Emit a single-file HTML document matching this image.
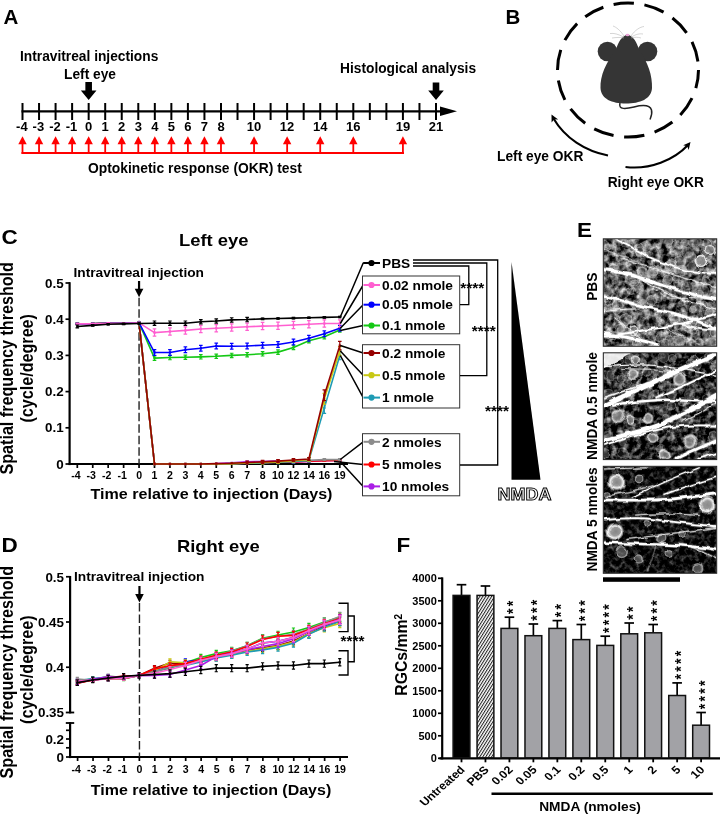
<!DOCTYPE html>
<html><head><meta charset="utf-8"><title>Figure</title>
<style>html,body{margin:0;padding:0;background:#fff}svg{display:block}text{font-family:"Liberation Sans",Arial,Helvetica,sans-serif;font-weight:bold}</style></head><body>
<svg width="720" height="816" viewBox="0 0 720 816">
<rect width="720" height="816" fill="#fff"/>
<defs>
<pattern id="hatch" width="2.5" height="2.5" patternUnits="userSpaceOnUse" patternTransform="rotate(-58)"><rect width="2.5" height="2.5" fill="#fff"/><rect width="2.5" height="1.05" fill="#222"/></pattern>
<filter id="noise" x="0" y="0" width="100%" height="100%"><feTurbulence type="fractalNoise" baseFrequency="0.11" numOctaves="3" seed="3" result="t"/><feColorMatrix type="matrix" values="0 0 0 0 0  0 0 0 0 0  0 0 0 0 0  2.6 2.6 0 0 -1.85" /><feComposite in2="SourceGraphic" operator="in"/></filter>
<filter id="noise2" x="0" y="0" width="100%" height="100%"><feTurbulence type="fractalNoise" baseFrequency="0.16" numOctaves="3" seed="11" result="t"/><feColorMatrix type="matrix" values="0 0 0 0 0  0 0 0 0 0  0 0 0 0 0  2.4 2.4 0 0 -2.0" /><feComposite in2="SourceGraphic" operator="in"/></filter>
<radialGradient id="cg"><stop offset="0" stop-color="#8c8c8c" stop-opacity="0.95"/><stop offset="0.45" stop-color="#a0a0a0" stop-opacity="0.95"/><stop offset="0.72" stop-color="#fff" stop-opacity="0.95"/><stop offset="1" stop-color="#fff" stop-opacity="0"/></radialGradient>
<filter id="b1"><feGaussianBlur stdDeviation="0.6"/></filter>
<filter id="b2"><feGaussianBlur stdDeviation="1.1"/></filter>
<clipPath id="c1"><rect x="603.5" y="239" width="113" height="107"/></clipPath>
<clipPath id="c2"><rect x="603.5" y="353" width="113" height="106.5"/></clipPath>
<clipPath id="c3"><rect x="603.5" y="466.5" width="113" height="106.5"/></clipPath>
</defs>
<text x="3.5" y="24" font-size="20.5" text-anchor="start" fill="#000" >A</text>
<text x="20" y="61" font-size="13.75" text-anchor="start" fill="#000" >Intravitreal injections</text>
<text x="64" y="79" font-size="13.75" text-anchor="start" fill="#000" >Left eye</text>
<text x="340" y="72.6" font-size="13.75" text-anchor="start" fill="#000" >Histological analysis</text>
<path d="M85.36,82 H91.96 V90.5 H96.46 L88.66,100 L80.86,90.5 H85.36 Z" fill="#000"/>
<path d="M432.7,82.5 H439.3 V90.5 H443.8 L436.0,100 L428.2,90.5 H432.7 Z" fill="#000"/>
<line x1="21.50" y1="111.30" x2="445.00" y2="111.30" stroke="#000" stroke-width="2.2" />
<path d="M440,106.5 L457,111.3 L440,116.1 Z" fill="#000"/>
<line x1="22.50" y1="103.00" x2="22.50" y2="120.00" stroke="#000" stroke-width="2" />
<line x1="39.04" y1="103.00" x2="39.04" y2="120.00" stroke="#000" stroke-width="2" />
<line x1="55.58" y1="103.00" x2="55.58" y2="120.00" stroke="#000" stroke-width="2" />
<line x1="72.12" y1="103.00" x2="72.12" y2="120.00" stroke="#000" stroke-width="2" />
<line x1="88.66" y1="103.00" x2="88.66" y2="120.00" stroke="#000" stroke-width="2" />
<line x1="105.20" y1="103.00" x2="105.20" y2="120.00" stroke="#000" stroke-width="2" />
<line x1="121.74" y1="103.00" x2="121.74" y2="120.00" stroke="#000" stroke-width="2" />
<line x1="138.28" y1="103.00" x2="138.28" y2="120.00" stroke="#000" stroke-width="2" />
<line x1="154.82" y1="103.00" x2="154.82" y2="120.00" stroke="#000" stroke-width="2" />
<line x1="171.36" y1="103.00" x2="171.36" y2="120.00" stroke="#000" stroke-width="2" />
<line x1="187.90" y1="103.00" x2="187.90" y2="120.00" stroke="#000" stroke-width="2" />
<line x1="204.44" y1="103.00" x2="204.44" y2="120.00" stroke="#000" stroke-width="2" />
<line x1="220.98" y1="103.00" x2="220.98" y2="120.00" stroke="#000" stroke-width="2" />
<line x1="237.52" y1="103.00" x2="237.52" y2="120.00" stroke="#000" stroke-width="2" />
<line x1="254.06" y1="103.00" x2="254.06" y2="120.00" stroke="#000" stroke-width="2" />
<line x1="270.60" y1="103.00" x2="270.60" y2="120.00" stroke="#000" stroke-width="2" />
<line x1="287.14" y1="103.00" x2="287.14" y2="120.00" stroke="#000" stroke-width="2" />
<line x1="303.68" y1="103.00" x2="303.68" y2="120.00" stroke="#000" stroke-width="2" />
<line x1="320.22" y1="103.00" x2="320.22" y2="120.00" stroke="#000" stroke-width="2" />
<line x1="336.76" y1="103.00" x2="336.76" y2="120.00" stroke="#000" stroke-width="2" />
<line x1="353.30" y1="103.00" x2="353.30" y2="120.00" stroke="#000" stroke-width="2" />
<line x1="369.84" y1="103.00" x2="369.84" y2="120.00" stroke="#000" stroke-width="2" />
<line x1="386.38" y1="103.00" x2="386.38" y2="120.00" stroke="#000" stroke-width="2" />
<line x1="402.92" y1="103.00" x2="402.92" y2="120.00" stroke="#000" stroke-width="2" />
<line x1="419.46" y1="103.00" x2="419.46" y2="120.00" stroke="#000" stroke-width="2" />
<line x1="436.00" y1="103.00" x2="436.00" y2="120.00" stroke="#000" stroke-width="2" />
<text x="21.9" y="131.3" font-size="13" text-anchor="middle" fill="#000" >-4</text>
<text x="38.4" y="131.3" font-size="13" text-anchor="middle" fill="#000" >-3</text>
<text x="55.0" y="131.3" font-size="13" text-anchor="middle" fill="#000" >-2</text>
<text x="71.5" y="131.3" font-size="13" text-anchor="middle" fill="#000" >-1</text>
<text x="88.7" y="131.3" font-size="13" text-anchor="middle" fill="#000" >0</text>
<text x="105.2" y="131.3" font-size="13" text-anchor="middle" fill="#000" >1</text>
<text x="121.7" y="131.3" font-size="13" text-anchor="middle" fill="#000" >2</text>
<text x="138.3" y="131.3" font-size="13" text-anchor="middle" fill="#000" >3</text>
<text x="154.8" y="131.3" font-size="13" text-anchor="middle" fill="#000" >4</text>
<text x="171.4" y="131.3" font-size="13" text-anchor="middle" fill="#000" >5</text>
<text x="187.9" y="131.3" font-size="13" text-anchor="middle" fill="#000" >6</text>
<text x="204.4" y="131.3" font-size="13" text-anchor="middle" fill="#000" >7</text>
<text x="221.0" y="131.3" font-size="13" text-anchor="middle" fill="#000" >8</text>
<text x="254.1" y="131.3" font-size="13" text-anchor="middle" fill="#000" >10</text>
<text x="287.1" y="131.3" font-size="13" text-anchor="middle" fill="#000" >12</text>
<text x="320.2" y="131.3" font-size="13" text-anchor="middle" fill="#000" >14</text>
<text x="353.3" y="131.3" font-size="13" text-anchor="middle" fill="#000" >16</text>
<text x="402.9" y="131.3" font-size="13" text-anchor="middle" fill="#000" >19</text>
<text x="436.0" y="131.3" font-size="13" text-anchor="middle" fill="#000" >21</text>
<line x1="21.50" y1="153.00" x2="404.00" y2="153.00" stroke="#f00" stroke-width="2" />
<line x1="22.50" y1="153.80" x2="22.50" y2="142.00" stroke="#f00" stroke-width="1.8" />
<path d="M18.30,144.3 L22.50,136.2 L26.70,144.3 Z" fill="#f00"/>
<line x1="39.04" y1="153.80" x2="39.04" y2="142.00" stroke="#f00" stroke-width="1.8" />
<path d="M34.84,144.3 L39.04,136.2 L43.24,144.3 Z" fill="#f00"/>
<line x1="55.58" y1="153.80" x2="55.58" y2="142.00" stroke="#f00" stroke-width="1.8" />
<path d="M51.38,144.3 L55.58,136.2 L59.78,144.3 Z" fill="#f00"/>
<line x1="72.12" y1="153.80" x2="72.12" y2="142.00" stroke="#f00" stroke-width="1.8" />
<path d="M67.92,144.3 L72.12,136.2 L76.32,144.3 Z" fill="#f00"/>
<line x1="88.66" y1="153.80" x2="88.66" y2="142.00" stroke="#f00" stroke-width="1.8" />
<path d="M84.46,144.3 L88.66,136.2 L92.86,144.3 Z" fill="#f00"/>
<line x1="105.20" y1="153.80" x2="105.20" y2="142.00" stroke="#f00" stroke-width="1.8" />
<path d="M101.00,144.3 L105.20,136.2 L109.40,144.3 Z" fill="#f00"/>
<line x1="121.74" y1="153.80" x2="121.74" y2="142.00" stroke="#f00" stroke-width="1.8" />
<path d="M117.54,144.3 L121.74,136.2 L125.94,144.3 Z" fill="#f00"/>
<line x1="138.28" y1="153.80" x2="138.28" y2="142.00" stroke="#f00" stroke-width="1.8" />
<path d="M134.08,144.3 L138.28,136.2 L142.48,144.3 Z" fill="#f00"/>
<line x1="154.82" y1="153.80" x2="154.82" y2="142.00" stroke="#f00" stroke-width="1.8" />
<path d="M150.62,144.3 L154.82,136.2 L159.02,144.3 Z" fill="#f00"/>
<line x1="171.36" y1="153.80" x2="171.36" y2="142.00" stroke="#f00" stroke-width="1.8" />
<path d="M167.16,144.3 L171.36,136.2 L175.56,144.3 Z" fill="#f00"/>
<line x1="187.90" y1="153.80" x2="187.90" y2="142.00" stroke="#f00" stroke-width="1.8" />
<path d="M183.70,144.3 L187.90,136.2 L192.10,144.3 Z" fill="#f00"/>
<line x1="204.44" y1="153.80" x2="204.44" y2="142.00" stroke="#f00" stroke-width="1.8" />
<path d="M200.24,144.3 L204.44,136.2 L208.64,144.3 Z" fill="#f00"/>
<line x1="220.98" y1="153.80" x2="220.98" y2="142.00" stroke="#f00" stroke-width="1.8" />
<path d="M216.78,144.3 L220.98,136.2 L225.18,144.3 Z" fill="#f00"/>
<line x1="254.06" y1="153.80" x2="254.06" y2="142.00" stroke="#f00" stroke-width="1.8" />
<path d="M249.86,144.3 L254.06,136.2 L258.26,144.3 Z" fill="#f00"/>
<line x1="287.14" y1="153.80" x2="287.14" y2="142.00" stroke="#f00" stroke-width="1.8" />
<path d="M282.94,144.3 L287.14,136.2 L291.34,144.3 Z" fill="#f00"/>
<line x1="320.22" y1="153.80" x2="320.22" y2="142.00" stroke="#f00" stroke-width="1.8" />
<path d="M316.02,144.3 L320.22,136.2 L324.42,144.3 Z" fill="#f00"/>
<line x1="353.30" y1="153.80" x2="353.30" y2="142.00" stroke="#f00" stroke-width="1.8" />
<path d="M349.10,144.3 L353.30,136.2 L357.50,144.3 Z" fill="#f00"/>
<line x1="402.92" y1="153.80" x2="402.92" y2="142.00" stroke="#f00" stroke-width="1.8" />
<path d="M398.72,144.3 L402.92,136.2 L407.12,144.3 Z" fill="#f00"/>
<text x="88" y="173" font-size="13.85" text-anchor="start" fill="#000" >Optokinetic response (OKR) test</text>
<text x="505.5" y="23.5" font-size="20.5" text-anchor="start" fill="#000" >B</text>
<ellipse cx="628" cy="70" rx="70.5" ry="67" fill="none" stroke="#000" stroke-width="3" stroke-dasharray="20.5 10.6" stroke-dashoffset="2"/>
<g fill="#353535">
<circle cx="607.5" cy="51.5" r="9.8"/><circle cx="647.5" cy="51.5" r="9.8"/>
<path d="M627.5,34.5 C622,36 618,42 616,50 C606,62 600,76 600.5,88 C601,99 612,103.5 626,103.5 C640,103.5 651.5,99 652,88 C652.5,76 648,62 639,50 C637,42 633,36 627.5,34.5 Z"/>
</g>
<ellipse cx="627.5" cy="35" rx="2" ry="1.2" fill="#e9a3d6"/>
<path d="M620,103 C618,110 626,109 634,107 C642,105 650,105 651.5,110 C652.5,114 651,117 650,119.5" fill="none" stroke="#222" stroke-width="1.5"/>
<g fill="none" stroke="#aaa" stroke-width="0.5"><path d="M624,36 C620,30 616,27 613,26"/><path d="M623.5,37 C618,34 614,33 610,33.5"/><path d="M631,36 C635,30 640,27 644,26.5"/><path d="M631.5,37 C636,34 640,33.5 643,34"/><path d="M624,38 C620,37 616,37.5 612,38"/><path d="M631,38 C635,37 638,37 641,38"/></g>
<path d="M608,155.5 C585,151 565,138 553.5,118.5" fill="none" stroke="#000" stroke-width="2.1"/>
<path d="M551.5,114.5 L558.2,119.5 L554.2,119.2 L551.6,122.6 Z" fill="#000"/>
<path d="M625.5,167 C650,170 674,160 688,145" fill="none" stroke="#000" stroke-width="2.1"/>
<path d="M690.5,142 L688.7,150 L687.2,146.2 L683.2,145.3 Z" fill="#000"/>
<text x="497" y="160.8" font-size="13.75" text-anchor="start" fill="#000" >Left eye OKR</text>
<text x="607.7" y="187" font-size="13.75" text-anchor="start" fill="#000" >Right eye OKR</text>
<text transform="translate(1.5,243.5) scale(1.13,1)" font-size="19.91" text-anchor="start" fill="#000" >C</text>
<text transform="translate(213.7,246) scale(1.13,1)" font-size="16.28" text-anchor="middle" fill="#000" >Left eye</text>
<text transform="translate(73.5,277) scale(1.13,1)" font-size="12.17" text-anchor="start" fill="#000" >Intravitreal injection</text>
<text transform="translate(12.9,368.3) scale(1.08,1) rotate(-90)" font-size="16.15" text-anchor="middle">Spatial frequency threshold</text>
<text transform="translate(33.1,368.3) scale(1.08,1) rotate(-90)" font-size="16.15" text-anchor="middle">(cycle/degree)</text>
<line x1="69.60" y1="282.20" x2="69.60" y2="465.10" stroke="#000" stroke-width="2.2" />
<line x1="68.50" y1="464.00" x2="348.00" y2="464.00" stroke="#000" stroke-width="2.2" />
<line x1="65.50" y1="283.00" x2="70.00" y2="283.00" stroke="#000" stroke-width="1.7" />
<text transform="translate(63.7,287.5) scale(1.13,1)" font-size="11.86" text-anchor="end" fill="#000" >0.5</text>
<line x1="65.50" y1="319.20" x2="70.00" y2="319.20" stroke="#000" stroke-width="1.7" />
<text transform="translate(63.7,323.7) scale(1.13,1)" font-size="11.86" text-anchor="end" fill="#000" >0.4</text>
<line x1="65.50" y1="355.40" x2="70.00" y2="355.40" stroke="#000" stroke-width="1.7" />
<text transform="translate(63.7,359.9) scale(1.13,1)" font-size="11.86" text-anchor="end" fill="#000" >0.3</text>
<line x1="65.50" y1="391.60" x2="70.00" y2="391.60" stroke="#000" stroke-width="1.7" />
<text transform="translate(63.7,396.1) scale(1.13,1)" font-size="11.86" text-anchor="end" fill="#000" >0.2</text>
<line x1="65.50" y1="427.80" x2="70.00" y2="427.80" stroke="#000" stroke-width="1.7" />
<text transform="translate(63.7,432.3) scale(1.13,1)" font-size="11.86" text-anchor="end" fill="#000" >0.1</text>
<line x1="65.50" y1="464.00" x2="70.00" y2="464.00" stroke="#000" stroke-width="1.7" />
<text transform="translate(63.7,468.5) scale(1.13,1)" font-size="11.86" text-anchor="end" fill="#000" >0</text>
<line x1="77.30" y1="464.00" x2="77.30" y2="468.00" stroke="#000" stroke-width="1.7" />
<text transform="translate(75.9,479.4) scale(1.06,1)" font-size="10.00" text-anchor="middle" fill="#000" >-4</text>
<line x1="92.74" y1="464.00" x2="92.74" y2="468.00" stroke="#000" stroke-width="1.7" />
<text transform="translate(91.3,479.4) scale(1.06,1)" font-size="10.00" text-anchor="middle" fill="#000" >-3</text>
<line x1="108.18" y1="464.00" x2="108.18" y2="468.00" stroke="#000" stroke-width="1.7" />
<text transform="translate(106.8,479.4) scale(1.06,1)" font-size="10.00" text-anchor="middle" fill="#000" >-2</text>
<line x1="123.62" y1="464.00" x2="123.62" y2="468.00" stroke="#000" stroke-width="1.7" />
<text transform="translate(122.2,479.4) scale(1.06,1)" font-size="10.00" text-anchor="middle" fill="#000" >-1</text>
<line x1="139.06" y1="464.00" x2="139.06" y2="468.00" stroke="#000" stroke-width="1.7" />
<text transform="translate(139.1,479.4) scale(1.06,1)" font-size="10.00" text-anchor="middle" fill="#000" >0</text>
<line x1="154.50" y1="464.00" x2="154.50" y2="468.00" stroke="#000" stroke-width="1.7" />
<text transform="translate(154.5,479.4) scale(1.06,1)" font-size="10.00" text-anchor="middle" fill="#000" >1</text>
<line x1="169.94" y1="464.00" x2="169.94" y2="468.00" stroke="#000" stroke-width="1.7" />
<text transform="translate(169.9,479.4) scale(1.06,1)" font-size="10.00" text-anchor="middle" fill="#000" >2</text>
<line x1="185.38" y1="464.00" x2="185.38" y2="468.00" stroke="#000" stroke-width="1.7" />
<text transform="translate(185.4,479.4) scale(1.06,1)" font-size="10.00" text-anchor="middle" fill="#000" >3</text>
<line x1="200.82" y1="464.00" x2="200.82" y2="468.00" stroke="#000" stroke-width="1.7" />
<text transform="translate(200.8,479.4) scale(1.06,1)" font-size="10.00" text-anchor="middle" fill="#000" >4</text>
<line x1="216.26" y1="464.00" x2="216.26" y2="468.00" stroke="#000" stroke-width="1.7" />
<text transform="translate(216.3,479.4) scale(1.06,1)" font-size="10.00" text-anchor="middle" fill="#000" >5</text>
<line x1="231.70" y1="464.00" x2="231.70" y2="468.00" stroke="#000" stroke-width="1.7" />
<text transform="translate(231.7,479.4) scale(1.06,1)" font-size="10.00" text-anchor="middle" fill="#000" >6</text>
<line x1="247.14" y1="464.00" x2="247.14" y2="468.00" stroke="#000" stroke-width="1.7" />
<text transform="translate(247.1,479.4) scale(1.06,1)" font-size="10.00" text-anchor="middle" fill="#000" >7</text>
<line x1="262.58" y1="464.00" x2="262.58" y2="468.00" stroke="#000" stroke-width="1.7" />
<text transform="translate(262.6,479.4) scale(1.06,1)" font-size="10.00" text-anchor="middle" fill="#000" >8</text>
<line x1="278.02" y1="464.00" x2="278.02" y2="468.00" stroke="#000" stroke-width="1.7" />
<text transform="translate(278.0,479.4) scale(1.06,1)" font-size="10.00" text-anchor="middle" fill="#000" >10</text>
<line x1="293.46" y1="464.00" x2="293.46" y2="468.00" stroke="#000" stroke-width="1.7" />
<text transform="translate(293.5,479.4) scale(1.06,1)" font-size="10.00" text-anchor="middle" fill="#000" >12</text>
<line x1="308.90" y1="464.00" x2="308.90" y2="468.00" stroke="#000" stroke-width="1.7" />
<text transform="translate(308.9,479.4) scale(1.06,1)" font-size="10.00" text-anchor="middle" fill="#000" >14</text>
<line x1="324.34" y1="464.00" x2="324.34" y2="468.00" stroke="#000" stroke-width="1.7" />
<text transform="translate(324.3,479.4) scale(1.06,1)" font-size="10.00" text-anchor="middle" fill="#000" >16</text>
<line x1="339.78" y1="464.00" x2="339.78" y2="468.00" stroke="#000" stroke-width="1.7" />
<text transform="translate(339.8,479.4) scale(1.06,1)" font-size="10.00" text-anchor="middle" fill="#000" >19</text>
<text transform="translate(211.5,498.5) scale(1.13,1)" font-size="14.25" text-anchor="middle" fill="#000" >Time relative to injection (Days)</text>
<line x1="139.06" y1="281.00" x2="139.06" y2="292.30" stroke="#000" stroke-width="2.2" />
<path d="M134.76,288.7 L143.36,288.7 L139.06,297.3 Z" fill="#000"/>
<line x1="139.06" y1="297.80" x2="139.06" y2="464.00" stroke="#222" stroke-width="1.4" stroke-dasharray="8.5 3"/>
<path d="M77.30,323.91 L92.74,323.91 L108.18,323.18 L123.62,323.18 L139.06,322.82 L154.50,464.00 L169.94,464.00 L185.38,464.00 L200.82,464.00 L216.26,463.64 L231.70,462.91 L247.14,461.83 L262.58,461.47 L278.02,460.74 L293.46,462.19 L308.90,461.47 L324.34,460.74 L339.78,460.38" fill="none" stroke="#aa1ee6" stroke-width="1.6" stroke-linejoin="round"/>
<path d="M77.30,323.36 V324.45 M75.50,323.36 h3.6 M75.50,324.45 h3.6" stroke="#aa1ee6" stroke-width="1.2" fill="none"/>
<path d="M92.74,323.36 V324.45 M90.94,323.36 h3.6 M90.94,324.45 h3.6" stroke="#aa1ee6" stroke-width="1.2" fill="none"/>
<path d="M108.18,322.64 V323.73 M106.38,322.64 h3.6 M106.38,323.73 h3.6" stroke="#aa1ee6" stroke-width="1.2" fill="none"/>
<path d="M123.62,322.64 V323.73 M121.82,322.64 h3.6 M121.82,323.73 h3.6" stroke="#aa1ee6" stroke-width="1.2" fill="none"/>
<path d="M139.06,322.28 V323.36 M137.26,322.28 h3.6 M137.26,323.36 h3.6" stroke="#aa1ee6" stroke-width="1.2" fill="none"/>
<path d="M247.14,461.10 V462.55 M245.34,461.10 h3.6 M245.34,462.55 h3.6" stroke="#aa1ee6" stroke-width="1.2" fill="none"/>
<path d="M262.58,460.74 V462.19 M260.78,460.74 h3.6 M260.78,462.19 h3.6" stroke="#aa1ee6" stroke-width="1.2" fill="none"/>
<path d="M278.02,460.02 V461.47 M276.22,460.02 h3.6 M276.22,461.47 h3.6" stroke="#aa1ee6" stroke-width="1.2" fill="none"/>
<path d="M293.46,461.47 V462.91 M291.66,461.47 h3.6 M291.66,462.91 h3.6" stroke="#aa1ee6" stroke-width="1.2" fill="none"/>
<path d="M308.90,460.74 V462.19 M307.10,460.74 h3.6 M307.10,462.19 h3.6" stroke="#aa1ee6" stroke-width="1.2" fill="none"/>
<path d="M324.34,460.02 V461.47 M322.54,460.02 h3.6 M322.54,461.47 h3.6" stroke="#aa1ee6" stroke-width="1.2" fill="none"/>
<path d="M339.78,459.66 V461.10 M337.98,459.66 h3.6 M337.98,461.10 h3.6" stroke="#aa1ee6" stroke-width="1.2" fill="none"/>
<rect x="76.15" y="322.76" width="2.3" height="2.3" fill="#aa1ee6"/>
<rect x="91.59" y="322.76" width="2.3" height="2.3" fill="#aa1ee6"/>
<rect x="107.03" y="322.03" width="2.3" height="2.3" fill="#aa1ee6"/>
<rect x="122.47" y="322.03" width="2.3" height="2.3" fill="#aa1ee6"/>
<rect x="137.91" y="321.67" width="2.3" height="2.3" fill="#aa1ee6"/>
<rect x="153.35" y="462.85" width="2.3" height="2.3" fill="#aa1ee6"/>
<rect x="168.79" y="462.85" width="2.3" height="2.3" fill="#aa1ee6"/>
<rect x="184.23" y="462.85" width="2.3" height="2.3" fill="#aa1ee6"/>
<rect x="199.67" y="462.85" width="2.3" height="2.3" fill="#aa1ee6"/>
<rect x="215.11" y="462.49" width="2.3" height="2.3" fill="#aa1ee6"/>
<rect x="230.55" y="461.76" width="2.3" height="2.3" fill="#aa1ee6"/>
<rect x="245.99" y="460.68" width="2.3" height="2.3" fill="#aa1ee6"/>
<rect x="261.43" y="460.32" width="2.3" height="2.3" fill="#aa1ee6"/>
<rect x="276.87" y="459.59" width="2.3" height="2.3" fill="#aa1ee6"/>
<rect x="292.31" y="461.04" width="2.3" height="2.3" fill="#aa1ee6"/>
<rect x="307.75" y="460.32" width="2.3" height="2.3" fill="#aa1ee6"/>
<rect x="323.19" y="459.59" width="2.3" height="2.3" fill="#aa1ee6"/>
<rect x="338.63" y="459.23" width="2.3" height="2.3" fill="#aa1ee6"/>
<path d="M77.30,323.91 L92.74,323.91 L108.18,323.18 L123.62,323.18 L139.06,322.82 L154.50,464.00 L169.94,464.00 L185.38,464.00 L200.82,464.00 L216.26,464.00 L231.70,463.64 L247.14,463.28 L262.58,462.91 L278.02,462.19 L293.46,461.83 L308.90,461.10 L324.34,460.74 L339.78,460.38" fill="none" stroke="#ff0000" stroke-width="1.6" stroke-linejoin="round"/>
<path d="M77.30,323.36 V324.45 M75.50,323.36 h3.6 M75.50,324.45 h3.6" stroke="#ff0000" stroke-width="1.2" fill="none"/>
<path d="M92.74,323.36 V324.45 M90.94,323.36 h3.6 M90.94,324.45 h3.6" stroke="#ff0000" stroke-width="1.2" fill="none"/>
<path d="M108.18,322.64 V323.73 M106.38,322.64 h3.6 M106.38,323.73 h3.6" stroke="#ff0000" stroke-width="1.2" fill="none"/>
<path d="M123.62,322.64 V323.73 M121.82,322.64 h3.6 M121.82,323.73 h3.6" stroke="#ff0000" stroke-width="1.2" fill="none"/>
<path d="M139.06,322.28 V323.36 M137.26,322.28 h3.6 M137.26,323.36 h3.6" stroke="#ff0000" stroke-width="1.2" fill="none"/>
<path d="M278.02,461.65 V462.73 M276.22,461.65 h3.6 M276.22,462.73 h3.6" stroke="#ff0000" stroke-width="1.2" fill="none"/>
<path d="M293.46,461.29 V462.37 M291.66,461.29 h3.6 M291.66,462.37 h3.6" stroke="#ff0000" stroke-width="1.2" fill="none"/>
<path d="M308.90,460.56 V461.65 M307.10,460.56 h3.6 M307.10,461.65 h3.6" stroke="#ff0000" stroke-width="1.2" fill="none"/>
<path d="M324.34,460.20 V461.29 M322.54,460.20 h3.6 M322.54,461.29 h3.6" stroke="#ff0000" stroke-width="1.2" fill="none"/>
<path d="M339.78,459.84 V460.92 M337.98,459.84 h3.6 M337.98,460.92 h3.6" stroke="#ff0000" stroke-width="1.2" fill="none"/>
<rect x="76.15" y="322.76" width="2.3" height="2.3" fill="#ff0000"/>
<rect x="91.59" y="322.76" width="2.3" height="2.3" fill="#ff0000"/>
<rect x="107.03" y="322.03" width="2.3" height="2.3" fill="#ff0000"/>
<rect x="122.47" y="322.03" width="2.3" height="2.3" fill="#ff0000"/>
<rect x="137.91" y="321.67" width="2.3" height="2.3" fill="#ff0000"/>
<rect x="153.35" y="462.85" width="2.3" height="2.3" fill="#ff0000"/>
<rect x="168.79" y="462.85" width="2.3" height="2.3" fill="#ff0000"/>
<rect x="184.23" y="462.85" width="2.3" height="2.3" fill="#ff0000"/>
<rect x="199.67" y="462.85" width="2.3" height="2.3" fill="#ff0000"/>
<rect x="215.11" y="462.85" width="2.3" height="2.3" fill="#ff0000"/>
<rect x="230.55" y="462.49" width="2.3" height="2.3" fill="#ff0000"/>
<rect x="245.99" y="462.13" width="2.3" height="2.3" fill="#ff0000"/>
<rect x="261.43" y="461.76" width="2.3" height="2.3" fill="#ff0000"/>
<rect x="276.87" y="461.04" width="2.3" height="2.3" fill="#ff0000"/>
<rect x="292.31" y="460.68" width="2.3" height="2.3" fill="#ff0000"/>
<rect x="307.75" y="459.95" width="2.3" height="2.3" fill="#ff0000"/>
<rect x="323.19" y="459.59" width="2.3" height="2.3" fill="#ff0000"/>
<rect x="338.63" y="459.23" width="2.3" height="2.3" fill="#ff0000"/>
<path d="M77.30,323.91 L92.74,323.91 L108.18,323.18 L123.62,323.18 L139.06,322.82 L154.50,464.00 L169.94,464.00 L185.38,464.00 L200.82,464.00 L216.26,464.00 L231.70,463.64 L247.14,463.28 L262.58,462.55 L278.02,461.83 L293.46,461.10 L308.90,460.38 L324.34,459.66 L339.78,459.66" fill="none" stroke="#8c8c8c" stroke-width="1.6" stroke-linejoin="round"/>
<path d="M77.30,323.36 V324.45 M75.50,323.36 h3.6 M75.50,324.45 h3.6" stroke="#8c8c8c" stroke-width="1.2" fill="none"/>
<path d="M92.74,323.36 V324.45 M90.94,323.36 h3.6 M90.94,324.45 h3.6" stroke="#8c8c8c" stroke-width="1.2" fill="none"/>
<path d="M108.18,322.64 V323.73 M106.38,322.64 h3.6 M106.38,323.73 h3.6" stroke="#8c8c8c" stroke-width="1.2" fill="none"/>
<path d="M123.62,322.64 V323.73 M121.82,322.64 h3.6 M121.82,323.73 h3.6" stroke="#8c8c8c" stroke-width="1.2" fill="none"/>
<path d="M139.06,322.28 V323.36 M137.26,322.28 h3.6 M137.26,323.36 h3.6" stroke="#8c8c8c" stroke-width="1.2" fill="none"/>
<path d="M262.58,461.47 V463.64 M260.78,461.47 h3.6 M260.78,463.64 h3.6" stroke="#8c8c8c" stroke-width="1.2" fill="none"/>
<path d="M278.02,460.74 V462.91 M276.22,460.74 h3.6 M276.22,462.91 h3.6" stroke="#8c8c8c" stroke-width="1.2" fill="none"/>
<path d="M293.46,460.02 V462.19 M291.66,460.02 h3.6 M291.66,462.19 h3.6" stroke="#8c8c8c" stroke-width="1.2" fill="none"/>
<path d="M308.90,459.29 V461.47 M307.10,459.29 h3.6 M307.10,461.47 h3.6" stroke="#8c8c8c" stroke-width="1.2" fill="none"/>
<path d="M324.34,458.57 V460.74 M322.54,458.57 h3.6 M322.54,460.74 h3.6" stroke="#8c8c8c" stroke-width="1.2" fill="none"/>
<path d="M339.78,458.57 V460.74 M337.98,458.57 h3.6 M337.98,460.74 h3.6" stroke="#8c8c8c" stroke-width="1.2" fill="none"/>
<rect x="76.15" y="322.76" width="2.3" height="2.3" fill="#8c8c8c"/>
<rect x="91.59" y="322.76" width="2.3" height="2.3" fill="#8c8c8c"/>
<rect x="107.03" y="322.03" width="2.3" height="2.3" fill="#8c8c8c"/>
<rect x="122.47" y="322.03" width="2.3" height="2.3" fill="#8c8c8c"/>
<rect x="137.91" y="321.67" width="2.3" height="2.3" fill="#8c8c8c"/>
<rect x="153.35" y="462.85" width="2.3" height="2.3" fill="#8c8c8c"/>
<rect x="168.79" y="462.85" width="2.3" height="2.3" fill="#8c8c8c"/>
<rect x="184.23" y="462.85" width="2.3" height="2.3" fill="#8c8c8c"/>
<rect x="199.67" y="462.85" width="2.3" height="2.3" fill="#8c8c8c"/>
<rect x="215.11" y="462.85" width="2.3" height="2.3" fill="#8c8c8c"/>
<rect x="230.55" y="462.49" width="2.3" height="2.3" fill="#8c8c8c"/>
<rect x="245.99" y="462.13" width="2.3" height="2.3" fill="#8c8c8c"/>
<rect x="261.43" y="461.40" width="2.3" height="2.3" fill="#8c8c8c"/>
<rect x="276.87" y="460.68" width="2.3" height="2.3" fill="#8c8c8c"/>
<rect x="292.31" y="459.95" width="2.3" height="2.3" fill="#8c8c8c"/>
<rect x="307.75" y="459.23" width="2.3" height="2.3" fill="#8c8c8c"/>
<rect x="323.19" y="458.51" width="2.3" height="2.3" fill="#8c8c8c"/>
<rect x="338.63" y="458.51" width="2.3" height="2.3" fill="#8c8c8c"/>
<path d="M77.30,323.91 L92.74,323.91 L108.18,323.18 L123.62,323.18 L139.06,322.82 L154.50,464.00 L169.94,464.00 L185.38,464.00 L200.82,464.00 L216.26,464.00 L231.70,463.64 L247.14,463.28 L262.58,462.91 L278.02,462.19 L293.46,461.47 L308.90,460.38 L324.34,407.89 L339.78,355.40" fill="none" stroke="#1e9bb4" stroke-width="1.6" stroke-linejoin="round"/>
<path d="M77.30,323.36 V324.45 M75.50,323.36 h3.6 M75.50,324.45 h3.6" stroke="#1e9bb4" stroke-width="1.2" fill="none"/>
<path d="M92.74,323.36 V324.45 M90.94,323.36 h3.6 M90.94,324.45 h3.6" stroke="#1e9bb4" stroke-width="1.2" fill="none"/>
<path d="M108.18,322.64 V323.73 M106.38,322.64 h3.6 M106.38,323.73 h3.6" stroke="#1e9bb4" stroke-width="1.2" fill="none"/>
<path d="M123.62,322.64 V323.73 M121.82,322.64 h3.6 M121.82,323.73 h3.6" stroke="#1e9bb4" stroke-width="1.2" fill="none"/>
<path d="M139.06,322.28 V323.36 M137.26,322.28 h3.6 M137.26,323.36 h3.6" stroke="#1e9bb4" stroke-width="1.2" fill="none"/>
<path d="M278.02,460.74 V463.64 M276.22,460.74 h3.6 M276.22,463.64 h3.6" stroke="#1e9bb4" stroke-width="1.2" fill="none"/>
<path d="M293.46,460.02 V462.91 M291.66,460.02 h3.6 M291.66,462.91 h3.6" stroke="#1e9bb4" stroke-width="1.2" fill="none"/>
<path d="M308.90,458.93 V461.83 M307.10,458.93 h3.6 M307.10,461.83 h3.6" stroke="#1e9bb4" stroke-width="1.2" fill="none"/>
<path d="M324.34,402.46 V413.32 M322.54,402.46 h3.6 M322.54,413.32 h3.6" stroke="#1e9bb4" stroke-width="1.2" fill="none"/>
<path d="M339.78,351.06 V359.74 M337.98,351.06 h3.6 M337.98,359.74 h3.6" stroke="#1e9bb4" stroke-width="1.2" fill="none"/>
<rect x="76.15" y="322.76" width="2.3" height="2.3" fill="#1e9bb4"/>
<rect x="91.59" y="322.76" width="2.3" height="2.3" fill="#1e9bb4"/>
<rect x="107.03" y="322.03" width="2.3" height="2.3" fill="#1e9bb4"/>
<rect x="122.47" y="322.03" width="2.3" height="2.3" fill="#1e9bb4"/>
<rect x="137.91" y="321.67" width="2.3" height="2.3" fill="#1e9bb4"/>
<rect x="153.35" y="462.85" width="2.3" height="2.3" fill="#1e9bb4"/>
<rect x="168.79" y="462.85" width="2.3" height="2.3" fill="#1e9bb4"/>
<rect x="184.23" y="462.85" width="2.3" height="2.3" fill="#1e9bb4"/>
<rect x="199.67" y="462.85" width="2.3" height="2.3" fill="#1e9bb4"/>
<rect x="215.11" y="462.85" width="2.3" height="2.3" fill="#1e9bb4"/>
<rect x="230.55" y="462.49" width="2.3" height="2.3" fill="#1e9bb4"/>
<rect x="245.99" y="462.13" width="2.3" height="2.3" fill="#1e9bb4"/>
<rect x="261.43" y="461.76" width="2.3" height="2.3" fill="#1e9bb4"/>
<rect x="276.87" y="461.04" width="2.3" height="2.3" fill="#1e9bb4"/>
<rect x="292.31" y="460.32" width="2.3" height="2.3" fill="#1e9bb4"/>
<rect x="307.75" y="459.23" width="2.3" height="2.3" fill="#1e9bb4"/>
<rect x="323.19" y="406.74" width="2.3" height="2.3" fill="#1e9bb4"/>
<rect x="338.63" y="354.25" width="2.3" height="2.3" fill="#1e9bb4"/>
<path d="M77.30,323.91 L92.74,323.91 L108.18,323.18 L123.62,323.18 L139.06,322.82 L154.50,464.00 L169.94,464.00 L185.38,464.00 L200.82,464.00 L216.26,464.00 L231.70,463.64 L247.14,462.91 L262.58,462.55 L278.02,461.83 L293.46,460.74 L308.90,459.66 L324.34,398.84 L339.78,351.06" fill="none" stroke="#c8c814" stroke-width="1.6" stroke-linejoin="round"/>
<path d="M77.30,323.36 V324.45 M75.50,323.36 h3.6 M75.50,324.45 h3.6" stroke="#c8c814" stroke-width="1.2" fill="none"/>
<path d="M92.74,323.36 V324.45 M90.94,323.36 h3.6 M90.94,324.45 h3.6" stroke="#c8c814" stroke-width="1.2" fill="none"/>
<path d="M108.18,322.64 V323.73 M106.38,322.64 h3.6 M106.38,323.73 h3.6" stroke="#c8c814" stroke-width="1.2" fill="none"/>
<path d="M123.62,322.64 V323.73 M121.82,322.64 h3.6 M121.82,323.73 h3.6" stroke="#c8c814" stroke-width="1.2" fill="none"/>
<path d="M139.06,322.28 V323.36 M137.26,322.28 h3.6 M137.26,323.36 h3.6" stroke="#c8c814" stroke-width="1.2" fill="none"/>
<path d="M262.58,461.10 V464.00 M260.78,461.10 h3.6 M260.78,464.00 h3.6" stroke="#c8c814" stroke-width="1.2" fill="none"/>
<path d="M278.02,460.38 V463.28 M276.22,460.38 h3.6 M276.22,463.28 h3.6" stroke="#c8c814" stroke-width="1.2" fill="none"/>
<path d="M293.46,459.29 V462.19 M291.66,459.29 h3.6 M291.66,462.19 h3.6" stroke="#c8c814" stroke-width="1.2" fill="none"/>
<path d="M308.90,458.21 V461.10 M307.10,458.21 h3.6 M307.10,461.10 h3.6" stroke="#c8c814" stroke-width="1.2" fill="none"/>
<path d="M324.34,393.41 V404.27 M322.54,393.41 h3.6 M322.54,404.27 h3.6" stroke="#c8c814" stroke-width="1.2" fill="none"/>
<path d="M339.78,346.71 V355.40 M337.98,346.71 h3.6 M337.98,355.40 h3.6" stroke="#c8c814" stroke-width="1.2" fill="none"/>
<rect x="76.15" y="322.76" width="2.3" height="2.3" fill="#c8c814"/>
<rect x="91.59" y="322.76" width="2.3" height="2.3" fill="#c8c814"/>
<rect x="107.03" y="322.03" width="2.3" height="2.3" fill="#c8c814"/>
<rect x="122.47" y="322.03" width="2.3" height="2.3" fill="#c8c814"/>
<rect x="137.91" y="321.67" width="2.3" height="2.3" fill="#c8c814"/>
<rect x="153.35" y="462.85" width="2.3" height="2.3" fill="#c8c814"/>
<rect x="168.79" y="462.85" width="2.3" height="2.3" fill="#c8c814"/>
<rect x="184.23" y="462.85" width="2.3" height="2.3" fill="#c8c814"/>
<rect x="199.67" y="462.85" width="2.3" height="2.3" fill="#c8c814"/>
<rect x="215.11" y="462.85" width="2.3" height="2.3" fill="#c8c814"/>
<rect x="230.55" y="462.49" width="2.3" height="2.3" fill="#c8c814"/>
<rect x="245.99" y="461.76" width="2.3" height="2.3" fill="#c8c814"/>
<rect x="261.43" y="461.40" width="2.3" height="2.3" fill="#c8c814"/>
<rect x="276.87" y="460.68" width="2.3" height="2.3" fill="#c8c814"/>
<rect x="292.31" y="459.59" width="2.3" height="2.3" fill="#c8c814"/>
<rect x="307.75" y="458.51" width="2.3" height="2.3" fill="#c8c814"/>
<rect x="323.19" y="397.69" width="2.3" height="2.3" fill="#c8c814"/>
<rect x="338.63" y="349.91" width="2.3" height="2.3" fill="#c8c814"/>
<path d="M77.30,323.91 L92.74,323.91 L108.18,323.18 L123.62,323.18 L139.06,322.82 L154.50,464.00 L169.94,464.00 L185.38,464.00 L200.82,464.00 L216.26,463.64 L231.70,463.28 L247.14,462.55 L262.58,461.83 L278.02,461.10 L293.46,460.02 L308.90,458.93 L324.34,395.22 L339.78,345.63" fill="none" stroke="#960000" stroke-width="1.6" stroke-linejoin="round"/>
<path d="M77.30,323.36 V324.45 M75.50,323.36 h3.6 M75.50,324.45 h3.6" stroke="#960000" stroke-width="1.2" fill="none"/>
<path d="M92.74,323.36 V324.45 M90.94,323.36 h3.6 M90.94,324.45 h3.6" stroke="#960000" stroke-width="1.2" fill="none"/>
<path d="M108.18,322.64 V323.73 M106.38,322.64 h3.6 M106.38,323.73 h3.6" stroke="#960000" stroke-width="1.2" fill="none"/>
<path d="M123.62,322.64 V323.73 M121.82,322.64 h3.6 M121.82,323.73 h3.6" stroke="#960000" stroke-width="1.2" fill="none"/>
<path d="M139.06,322.28 V323.36 M137.26,322.28 h3.6 M137.26,323.36 h3.6" stroke="#960000" stroke-width="1.2" fill="none"/>
<path d="M247.14,461.10 V464.00 M245.34,461.10 h3.6 M245.34,464.00 h3.6" stroke="#960000" stroke-width="1.2" fill="none"/>
<path d="M262.58,460.38 V463.28 M260.78,460.38 h3.6 M260.78,463.28 h3.6" stroke="#960000" stroke-width="1.2" fill="none"/>
<path d="M278.02,459.66 V462.55 M276.22,459.66 h3.6 M276.22,462.55 h3.6" stroke="#960000" stroke-width="1.2" fill="none"/>
<path d="M293.46,458.57 V461.47 M291.66,458.57 h3.6 M291.66,461.47 h3.6" stroke="#960000" stroke-width="1.2" fill="none"/>
<path d="M308.90,457.48 V460.38 M307.10,457.48 h3.6 M307.10,460.38 h3.6" stroke="#960000" stroke-width="1.2" fill="none"/>
<path d="M324.34,389.79 V400.65 M322.54,389.79 h3.6 M322.54,400.65 h3.6" stroke="#960000" stroke-width="1.2" fill="none"/>
<path d="M339.78,341.28 V349.97 M337.98,341.28 h3.6 M337.98,349.97 h3.6" stroke="#960000" stroke-width="1.2" fill="none"/>
<rect x="76.15" y="322.76" width="2.3" height="2.3" fill="#960000"/>
<rect x="91.59" y="322.76" width="2.3" height="2.3" fill="#960000"/>
<rect x="107.03" y="322.03" width="2.3" height="2.3" fill="#960000"/>
<rect x="122.47" y="322.03" width="2.3" height="2.3" fill="#960000"/>
<rect x="137.91" y="321.67" width="2.3" height="2.3" fill="#960000"/>
<rect x="153.35" y="462.85" width="2.3" height="2.3" fill="#960000"/>
<rect x="168.79" y="462.85" width="2.3" height="2.3" fill="#960000"/>
<rect x="184.23" y="462.85" width="2.3" height="2.3" fill="#960000"/>
<rect x="199.67" y="462.85" width="2.3" height="2.3" fill="#960000"/>
<rect x="215.11" y="462.49" width="2.3" height="2.3" fill="#960000"/>
<rect x="230.55" y="462.13" width="2.3" height="2.3" fill="#960000"/>
<rect x="245.99" y="461.40" width="2.3" height="2.3" fill="#960000"/>
<rect x="261.43" y="460.68" width="2.3" height="2.3" fill="#960000"/>
<rect x="276.87" y="459.95" width="2.3" height="2.3" fill="#960000"/>
<rect x="292.31" y="458.87" width="2.3" height="2.3" fill="#960000"/>
<rect x="307.75" y="457.78" width="2.3" height="2.3" fill="#960000"/>
<rect x="323.19" y="394.07" width="2.3" height="2.3" fill="#960000"/>
<rect x="338.63" y="344.48" width="2.3" height="2.3" fill="#960000"/>
<path d="M77.30,323.91 L92.74,323.91 L108.18,323.18 L123.62,323.18 L139.06,322.82 L154.50,358.12 L169.94,357.57 L185.38,357.21 L200.82,356.85 L216.26,356.31 L231.70,355.40 L247.14,354.68 L262.58,353.81 L278.02,352.14 L293.46,347.44 L308.90,340.70 L324.34,336.68 L339.78,330.06" fill="none" stroke="#14c814" stroke-width="1.6" stroke-linejoin="round"/>
<path d="M77.30,323.36 V324.45 M75.50,323.36 h3.6 M75.50,324.45 h3.6" stroke="#14c814" stroke-width="1.2" fill="none"/>
<path d="M92.74,323.36 V324.45 M90.94,323.36 h3.6 M90.94,324.45 h3.6" stroke="#14c814" stroke-width="1.2" fill="none"/>
<path d="M108.18,322.64 V323.73 M106.38,322.64 h3.6 M106.38,323.73 h3.6" stroke="#14c814" stroke-width="1.2" fill="none"/>
<path d="M123.62,322.64 V323.73 M121.82,322.64 h3.6 M121.82,323.73 h3.6" stroke="#14c814" stroke-width="1.2" fill="none"/>
<path d="M139.06,322.28 V323.36 M137.26,322.28 h3.6 M137.26,323.36 h3.6" stroke="#14c814" stroke-width="1.2" fill="none"/>
<path d="M154.50,355.94 V360.29 M152.70,355.94 h3.6 M152.70,360.29 h3.6" stroke="#14c814" stroke-width="1.2" fill="none"/>
<path d="M169.94,355.40 V359.74 M168.14,355.40 h3.6 M168.14,359.74 h3.6" stroke="#14c814" stroke-width="1.2" fill="none"/>
<path d="M185.38,355.04 V359.38 M183.58,355.04 h3.6 M183.58,359.38 h3.6" stroke="#14c814" stroke-width="1.2" fill="none"/>
<path d="M200.82,354.68 V359.02 M199.02,354.68 h3.6 M199.02,359.02 h3.6" stroke="#14c814" stroke-width="1.2" fill="none"/>
<path d="M216.26,354.13 V358.48 M214.46,354.13 h3.6 M214.46,358.48 h3.6" stroke="#14c814" stroke-width="1.2" fill="none"/>
<path d="M231.70,353.23 V357.57 M229.90,353.23 h3.6 M229.90,357.57 h3.6" stroke="#14c814" stroke-width="1.2" fill="none"/>
<path d="M247.14,352.50 V356.85 M245.34,352.50 h3.6 M245.34,356.85 h3.6" stroke="#14c814" stroke-width="1.2" fill="none"/>
<path d="M262.58,351.64 V355.98 M260.78,351.64 h3.6 M260.78,355.98 h3.6" stroke="#14c814" stroke-width="1.2" fill="none"/>
<path d="M278.02,349.97 V354.31 M276.22,349.97 h3.6 M276.22,354.31 h3.6" stroke="#14c814" stroke-width="1.2" fill="none"/>
<path d="M293.46,345.26 V349.61 M291.66,345.26 h3.6 M291.66,349.61 h3.6" stroke="#14c814" stroke-width="1.2" fill="none"/>
<path d="M308.90,338.53 V342.87 M307.10,338.53 h3.6 M307.10,342.87 h3.6" stroke="#14c814" stroke-width="1.2" fill="none"/>
<path d="M324.34,334.51 V338.86 M322.54,334.51 h3.6 M322.54,338.86 h3.6" stroke="#14c814" stroke-width="1.2" fill="none"/>
<path d="M339.78,327.89 V332.23 M337.98,327.89 h3.6 M337.98,332.23 h3.6" stroke="#14c814" stroke-width="1.2" fill="none"/>
<rect x="76.15" y="322.76" width="2.3" height="2.3" fill="#14c814"/>
<rect x="91.59" y="322.76" width="2.3" height="2.3" fill="#14c814"/>
<rect x="107.03" y="322.03" width="2.3" height="2.3" fill="#14c814"/>
<rect x="122.47" y="322.03" width="2.3" height="2.3" fill="#14c814"/>
<rect x="137.91" y="321.67" width="2.3" height="2.3" fill="#14c814"/>
<rect x="153.35" y="356.97" width="2.3" height="2.3" fill="#14c814"/>
<rect x="168.79" y="356.42" width="2.3" height="2.3" fill="#14c814"/>
<rect x="184.23" y="356.06" width="2.3" height="2.3" fill="#14c814"/>
<rect x="199.67" y="355.70" width="2.3" height="2.3" fill="#14c814"/>
<rect x="215.11" y="355.16" width="2.3" height="2.3" fill="#14c814"/>
<rect x="230.55" y="354.25" width="2.3" height="2.3" fill="#14c814"/>
<rect x="245.99" y="353.53" width="2.3" height="2.3" fill="#14c814"/>
<rect x="261.43" y="352.66" width="2.3" height="2.3" fill="#14c814"/>
<rect x="276.87" y="350.99" width="2.3" height="2.3" fill="#14c814"/>
<rect x="292.31" y="346.29" width="2.3" height="2.3" fill="#14c814"/>
<rect x="307.75" y="339.55" width="2.3" height="2.3" fill="#14c814"/>
<rect x="323.19" y="335.53" width="2.3" height="2.3" fill="#14c814"/>
<rect x="338.63" y="328.91" width="2.3" height="2.3" fill="#14c814"/>
<path d="M77.30,323.91 L92.74,323.91 L108.18,323.18 L123.62,323.18 L139.06,322.82 L154.50,352.50 L169.94,352.50 L185.38,349.79 L200.82,348.30 L216.26,345.99 L231.70,346.21 L247.14,345.99 L262.58,345.26 L278.02,344.54 L293.46,342.01 L308.90,338.21 L324.34,333.68 L339.78,328.25" fill="none" stroke="#0000ff" stroke-width="1.6" stroke-linejoin="round"/>
<path d="M77.30,323.36 V324.45 M75.50,323.36 h3.6 M75.50,324.45 h3.6" stroke="#0000ff" stroke-width="1.2" fill="none"/>
<path d="M92.74,323.36 V324.45 M90.94,323.36 h3.6 M90.94,324.45 h3.6" stroke="#0000ff" stroke-width="1.2" fill="none"/>
<path d="M108.18,322.64 V323.73 M106.38,322.64 h3.6 M106.38,323.73 h3.6" stroke="#0000ff" stroke-width="1.2" fill="none"/>
<path d="M123.62,322.64 V323.73 M121.82,322.64 h3.6 M121.82,323.73 h3.6" stroke="#0000ff" stroke-width="1.2" fill="none"/>
<path d="M139.06,322.28 V323.36 M137.26,322.28 h3.6 M137.26,323.36 h3.6" stroke="#0000ff" stroke-width="1.2" fill="none"/>
<path d="M154.50,349.61 V355.40 M152.70,349.61 h3.6 M152.70,355.40 h3.6" stroke="#0000ff" stroke-width="1.2" fill="none"/>
<path d="M169.94,349.61 V355.40 M168.14,349.61 h3.6 M168.14,355.40 h3.6" stroke="#0000ff" stroke-width="1.2" fill="none"/>
<path d="M185.38,346.89 V352.69 M183.58,346.89 h3.6 M183.58,352.69 h3.6" stroke="#0000ff" stroke-width="1.2" fill="none"/>
<path d="M200.82,345.41 V351.20 M199.02,345.41 h3.6 M199.02,351.20 h3.6" stroke="#0000ff" stroke-width="1.2" fill="none"/>
<path d="M216.26,343.09 V348.88 M214.46,343.09 h3.6 M214.46,348.88 h3.6" stroke="#0000ff" stroke-width="1.2" fill="none"/>
<path d="M231.70,343.31 V349.10 M229.90,343.31 h3.6 M229.90,349.10 h3.6" stroke="#0000ff" stroke-width="1.2" fill="none"/>
<path d="M247.14,343.09 V348.88 M245.34,343.09 h3.6 M245.34,348.88 h3.6" stroke="#0000ff" stroke-width="1.2" fill="none"/>
<path d="M262.58,342.37 V348.16 M260.78,342.37 h3.6 M260.78,348.16 h3.6" stroke="#0000ff" stroke-width="1.2" fill="none"/>
<path d="M278.02,341.64 V347.44 M276.22,341.64 h3.6 M276.22,347.44 h3.6" stroke="#0000ff" stroke-width="1.2" fill="none"/>
<path d="M293.46,339.11 V344.90 M291.66,339.11 h3.6 M291.66,344.90 h3.6" stroke="#0000ff" stroke-width="1.2" fill="none"/>
<path d="M308.90,335.31 V341.10 M307.10,335.31 h3.6 M307.10,341.10 h3.6" stroke="#0000ff" stroke-width="1.2" fill="none"/>
<path d="M324.34,330.78 V336.58 M322.54,330.78 h3.6 M322.54,336.58 h3.6" stroke="#0000ff" stroke-width="1.2" fill="none"/>
<path d="M339.78,325.35 V331.15 M337.98,325.35 h3.6 M337.98,331.15 h3.6" stroke="#0000ff" stroke-width="1.2" fill="none"/>
<rect x="76.15" y="322.76" width="2.3" height="2.3" fill="#0000ff"/>
<rect x="91.59" y="322.76" width="2.3" height="2.3" fill="#0000ff"/>
<rect x="107.03" y="322.03" width="2.3" height="2.3" fill="#0000ff"/>
<rect x="122.47" y="322.03" width="2.3" height="2.3" fill="#0000ff"/>
<rect x="137.91" y="321.67" width="2.3" height="2.3" fill="#0000ff"/>
<rect x="153.35" y="351.35" width="2.3" height="2.3" fill="#0000ff"/>
<rect x="168.79" y="351.35" width="2.3" height="2.3" fill="#0000ff"/>
<rect x="184.23" y="348.64" width="2.3" height="2.3" fill="#0000ff"/>
<rect x="199.67" y="347.15" width="2.3" height="2.3" fill="#0000ff"/>
<rect x="215.11" y="344.84" width="2.3" height="2.3" fill="#0000ff"/>
<rect x="230.55" y="345.06" width="2.3" height="2.3" fill="#0000ff"/>
<rect x="245.99" y="344.84" width="2.3" height="2.3" fill="#0000ff"/>
<rect x="261.43" y="344.11" width="2.3" height="2.3" fill="#0000ff"/>
<rect x="276.87" y="343.39" width="2.3" height="2.3" fill="#0000ff"/>
<rect x="292.31" y="340.86" width="2.3" height="2.3" fill="#0000ff"/>
<rect x="307.75" y="337.06" width="2.3" height="2.3" fill="#0000ff"/>
<rect x="323.19" y="332.53" width="2.3" height="2.3" fill="#0000ff"/>
<rect x="338.63" y="327.10" width="2.3" height="2.3" fill="#0000ff"/>
<path d="M77.30,323.91 L92.74,323.91 L108.18,323.18 L123.62,323.18 L139.06,322.82 L154.50,332.59 L169.94,331.51 L185.38,330.42 L200.82,328.97 L216.26,328.25 L231.70,327.53 L247.14,326.80 L262.58,326.08 L278.02,325.72 L293.46,324.99 L308.90,324.27 L324.34,323.54 L339.78,323.54" fill="none" stroke="#ff5fd0" stroke-width="1.6" stroke-linejoin="round"/>
<path d="M77.30,323.36 V324.45 M75.50,323.36 h3.6 M75.50,324.45 h3.6" stroke="#ff5fd0" stroke-width="1.2" fill="none"/>
<path d="M92.74,323.36 V324.45 M90.94,323.36 h3.6 M90.94,324.45 h3.6" stroke="#ff5fd0" stroke-width="1.2" fill="none"/>
<path d="M108.18,322.64 V323.73 M106.38,322.64 h3.6 M106.38,323.73 h3.6" stroke="#ff5fd0" stroke-width="1.2" fill="none"/>
<path d="M123.62,322.64 V323.73 M121.82,322.64 h3.6 M121.82,323.73 h3.6" stroke="#ff5fd0" stroke-width="1.2" fill="none"/>
<path d="M139.06,322.28 V323.36 M137.26,322.28 h3.6 M137.26,323.36 h3.6" stroke="#ff5fd0" stroke-width="1.2" fill="none"/>
<path d="M154.50,328.97 V336.21 M152.70,328.97 h3.6 M152.70,336.21 h3.6" stroke="#ff5fd0" stroke-width="1.2" fill="none"/>
<path d="M169.94,327.89 V335.13 M168.14,327.89 h3.6 M168.14,335.13 h3.6" stroke="#ff5fd0" stroke-width="1.2" fill="none"/>
<path d="M185.38,326.80 V334.04 M183.58,326.80 h3.6 M183.58,334.04 h3.6" stroke="#ff5fd0" stroke-width="1.2" fill="none"/>
<path d="M200.82,325.35 V332.59 M199.02,325.35 h3.6 M199.02,332.59 h3.6" stroke="#ff5fd0" stroke-width="1.2" fill="none"/>
<path d="M216.26,324.63 V331.87 M214.46,324.63 h3.6 M214.46,331.87 h3.6" stroke="#ff5fd0" stroke-width="1.2" fill="none"/>
<path d="M231.70,323.91 V331.15 M229.90,323.91 h3.6 M229.90,331.15 h3.6" stroke="#ff5fd0" stroke-width="1.2" fill="none"/>
<path d="M247.14,323.18 V330.42 M245.34,323.18 h3.6 M245.34,330.42 h3.6" stroke="#ff5fd0" stroke-width="1.2" fill="none"/>
<path d="M262.58,322.46 V329.70 M260.78,322.46 h3.6 M260.78,329.70 h3.6" stroke="#ff5fd0" stroke-width="1.2" fill="none"/>
<path d="M278.02,322.10 V329.34 M276.22,322.10 h3.6 M276.22,329.34 h3.6" stroke="#ff5fd0" stroke-width="1.2" fill="none"/>
<path d="M293.46,321.37 V328.61 M291.66,321.37 h3.6 M291.66,328.61 h3.6" stroke="#ff5fd0" stroke-width="1.2" fill="none"/>
<path d="M308.90,320.65 V327.89 M307.10,320.65 h3.6 M307.10,327.89 h3.6" stroke="#ff5fd0" stroke-width="1.2" fill="none"/>
<path d="M324.34,319.92 V327.16 M322.54,319.92 h3.6 M322.54,327.16 h3.6" stroke="#ff5fd0" stroke-width="1.2" fill="none"/>
<path d="M339.78,319.92 V327.16 M337.98,319.92 h3.6 M337.98,327.16 h3.6" stroke="#ff5fd0" stroke-width="1.2" fill="none"/>
<rect x="76.15" y="322.76" width="2.3" height="2.3" fill="#ff5fd0"/>
<rect x="91.59" y="322.76" width="2.3" height="2.3" fill="#ff5fd0"/>
<rect x="107.03" y="322.03" width="2.3" height="2.3" fill="#ff5fd0"/>
<rect x="122.47" y="322.03" width="2.3" height="2.3" fill="#ff5fd0"/>
<rect x="137.91" y="321.67" width="2.3" height="2.3" fill="#ff5fd0"/>
<rect x="153.35" y="331.44" width="2.3" height="2.3" fill="#ff5fd0"/>
<rect x="168.79" y="330.36" width="2.3" height="2.3" fill="#ff5fd0"/>
<rect x="184.23" y="329.27" width="2.3" height="2.3" fill="#ff5fd0"/>
<rect x="199.67" y="327.82" width="2.3" height="2.3" fill="#ff5fd0"/>
<rect x="215.11" y="327.10" width="2.3" height="2.3" fill="#ff5fd0"/>
<rect x="230.55" y="326.38" width="2.3" height="2.3" fill="#ff5fd0"/>
<rect x="245.99" y="325.65" width="2.3" height="2.3" fill="#ff5fd0"/>
<rect x="261.43" y="324.93" width="2.3" height="2.3" fill="#ff5fd0"/>
<rect x="276.87" y="324.57" width="2.3" height="2.3" fill="#ff5fd0"/>
<rect x="292.31" y="323.84" width="2.3" height="2.3" fill="#ff5fd0"/>
<rect x="307.75" y="323.12" width="2.3" height="2.3" fill="#ff5fd0"/>
<rect x="323.19" y="322.39" width="2.3" height="2.3" fill="#ff5fd0"/>
<rect x="338.63" y="322.39" width="2.3" height="2.3" fill="#ff5fd0"/>
<path d="M77.30,326.44 L92.74,325.35 L108.18,324.27 L123.62,323.91 L139.06,323.54 L154.50,323.18 L169.94,323.18 L185.38,323.18 L200.82,321.73 L216.26,321.01 L231.70,319.92 L247.14,319.56 L262.58,318.84 L278.02,318.48 L293.46,318.11 L308.90,317.75 L324.34,317.39 L339.78,317.03" fill="none" stroke="#000" stroke-width="1.6" stroke-linejoin="round"/>
<path d="M77.30,324.99 V327.89 M75.50,324.99 h3.6 M75.50,327.89 h3.6" stroke="#000" stroke-width="1.2" fill="none"/>
<path d="M92.74,324.63 V326.08 M90.94,324.63 h3.6 M90.94,326.08 h3.6" stroke="#000" stroke-width="1.2" fill="none"/>
<path d="M108.18,323.54 V324.99 M106.38,323.54 h3.6 M106.38,324.99 h3.6" stroke="#000" stroke-width="1.2" fill="none"/>
<path d="M123.62,323.18 V324.63 M121.82,323.18 h3.6 M121.82,324.63 h3.6" stroke="#000" stroke-width="1.2" fill="none"/>
<path d="M139.06,322.82 V324.27 M137.26,322.82 h3.6 M137.26,324.27 h3.6" stroke="#000" stroke-width="1.2" fill="none"/>
<path d="M154.50,321.01 V325.35 M152.70,321.01 h3.6 M152.70,325.35 h3.6" stroke="#000" stroke-width="1.2" fill="none"/>
<path d="M169.94,321.01 V325.35 M168.14,321.01 h3.6 M168.14,325.35 h3.6" stroke="#000" stroke-width="1.2" fill="none"/>
<path d="M185.38,321.01 V325.35 M183.58,321.01 h3.6 M183.58,325.35 h3.6" stroke="#000" stroke-width="1.2" fill="none"/>
<path d="M200.82,319.56 V323.91 M199.02,319.56 h3.6 M199.02,323.91 h3.6" stroke="#000" stroke-width="1.2" fill="none"/>
<path d="M216.26,318.84 V323.18 M214.46,318.84 h3.6 M214.46,323.18 h3.6" stroke="#000" stroke-width="1.2" fill="none"/>
<path d="M231.70,317.75 V322.10 M229.90,317.75 h3.6 M229.90,322.10 h3.6" stroke="#000" stroke-width="1.2" fill="none"/>
<path d="M247.14,317.39 V321.73 M245.34,317.39 h3.6 M245.34,321.73 h3.6" stroke="#000" stroke-width="1.2" fill="none"/>
<path d="M262.58,318.11 V319.56 M260.78,318.11 h3.6 M260.78,319.56 h3.6" stroke="#000" stroke-width="1.2" fill="none"/>
<path d="M278.02,317.75 V319.20 M276.22,317.75 h3.6 M276.22,319.20 h3.6" stroke="#000" stroke-width="1.2" fill="none"/>
<path d="M293.46,317.39 V318.84 M291.66,317.39 h3.6 M291.66,318.84 h3.6" stroke="#000" stroke-width="1.2" fill="none"/>
<path d="M308.90,317.03 V318.48 M307.10,317.03 h3.6 M307.10,318.48 h3.6" stroke="#000" stroke-width="1.2" fill="none"/>
<path d="M324.34,316.67 V318.11 M322.54,316.67 h3.6 M322.54,318.11 h3.6" stroke="#000" stroke-width="1.2" fill="none"/>
<path d="M339.78,316.30 V317.75 M337.98,316.30 h3.6 M337.98,317.75 h3.6" stroke="#000" stroke-width="1.2" fill="none"/>
<rect x="76.15" y="325.29" width="2.3" height="2.3" fill="#000"/>
<rect x="91.59" y="324.20" width="2.3" height="2.3" fill="#000"/>
<rect x="107.03" y="323.12" width="2.3" height="2.3" fill="#000"/>
<rect x="122.47" y="322.76" width="2.3" height="2.3" fill="#000"/>
<rect x="137.91" y="322.39" width="2.3" height="2.3" fill="#000"/>
<rect x="153.35" y="322.03" width="2.3" height="2.3" fill="#000"/>
<rect x="168.79" y="322.03" width="2.3" height="2.3" fill="#000"/>
<rect x="184.23" y="322.03" width="2.3" height="2.3" fill="#000"/>
<rect x="199.67" y="320.58" width="2.3" height="2.3" fill="#000"/>
<rect x="215.11" y="319.86" width="2.3" height="2.3" fill="#000"/>
<rect x="230.55" y="318.77" width="2.3" height="2.3" fill="#000"/>
<rect x="245.99" y="318.41" width="2.3" height="2.3" fill="#000"/>
<rect x="261.43" y="317.69" width="2.3" height="2.3" fill="#000"/>
<rect x="276.87" y="317.33" width="2.3" height="2.3" fill="#000"/>
<rect x="292.31" y="316.96" width="2.3" height="2.3" fill="#000"/>
<rect x="307.75" y="316.60" width="2.3" height="2.3" fill="#000"/>
<rect x="323.19" y="316.24" width="2.3" height="2.3" fill="#000"/>
<rect x="338.63" y="315.88" width="2.3" height="2.3" fill="#000"/>
<path d="M340.3,317 L363.2,263 H366" fill="none" stroke="#000" stroke-width="1.5" stroke-linejoin="round"/>
<path d="M340.3,323.5 L363.2,285 H366" fill="none" stroke="#000" stroke-width="1.5" stroke-linejoin="round"/>
<path d="M340.3,328.3 L363.2,304.7 H366" fill="none" stroke="#000" stroke-width="1.5" stroke-linejoin="round"/>
<path d="M340.3,330.5 L363.2,325.5 H366" fill="none" stroke="#000" stroke-width="1.5" stroke-linejoin="round"/>
<path d="M340.3,345.5 L363.2,353 H366" fill="none" stroke="#000" stroke-width="1.5" stroke-linejoin="round"/>
<path d="M340.3,351 L363.2,375.2 H366" fill="none" stroke="#000" stroke-width="1.5" stroke-linejoin="round"/>
<path d="M340.3,355.5 L363.2,397.6 H366" fill="none" stroke="#000" stroke-width="1.5" stroke-linejoin="round"/>
<path d="M340.3,459.5 L363.2,441.8 H366" fill="none" stroke="#000" stroke-width="1.5" stroke-linejoin="round"/>
<path d="M334,461.5 L363.2,464.5 H366" fill="none" stroke="#000" stroke-width="1.5" stroke-linejoin="round"/>
<path d="M340.3,461.5 L363.2,486.4 H366" fill="none" stroke="#000" stroke-width="1.5" stroke-linejoin="round"/>
<rect x="362.5" y="276" width="97.2" height="57.80000000000001" fill="#fff" stroke="#333" stroke-width="1"/>
<rect x="362.5" y="344.7" width="97.2" height="63.30000000000001" fill="#fff" stroke="#333" stroke-width="1"/>
<rect x="362.5" y="433.7" width="97.2" height="62.10000000000002" fill="#fff" stroke="#333" stroke-width="1"/>
<line x1="363.50" y1="263.00" x2="380.00" y2="263.00" stroke="#000" stroke-width="2" />
<circle cx="371.5" cy="263" r="3.1" fill="#000"/>
<text transform="translate(382,267.7) scale(1.13,1)" font-size="12.17" text-anchor="start" fill="#000" >PBS</text>
<line x1="363.50" y1="285.00" x2="380.00" y2="285.00" stroke="#ff5fd0" stroke-width="2" />
<circle cx="371.5" cy="285" r="3.1" fill="#ff5fd0"/>
<text transform="translate(382,289.7) scale(1.13,1)" font-size="12.17" text-anchor="start" fill="#000" >0.02 nmole</text>
<line x1="363.50" y1="304.70" x2="380.00" y2="304.70" stroke="#0000ff" stroke-width="2" />
<circle cx="371.5" cy="304.7" r="3.1" fill="#0000ff"/>
<text transform="translate(382,309.4) scale(1.13,1)" font-size="12.17" text-anchor="start" fill="#000" >0.05 nmole</text>
<line x1="363.50" y1="325.50" x2="380.00" y2="325.50" stroke="#14c814" stroke-width="2" />
<circle cx="371.5" cy="325.5" r="3.1" fill="#14c814"/>
<text transform="translate(382,330.2) scale(1.13,1)" font-size="12.17" text-anchor="start" fill="#000" >0.1 nmole</text>
<line x1="363.50" y1="353.00" x2="380.00" y2="353.00" stroke="#960000" stroke-width="2" />
<circle cx="371.5" cy="353" r="3.1" fill="#960000"/>
<text transform="translate(382,357.7) scale(1.13,1)" font-size="12.17" text-anchor="start" fill="#000" >0.2 nmole</text>
<line x1="363.50" y1="375.20" x2="380.00" y2="375.20" stroke="#c8c814" stroke-width="2" />
<circle cx="371.5" cy="375.2" r="3.1" fill="#c8c814"/>
<text transform="translate(382,379.9) scale(1.13,1)" font-size="12.17" text-anchor="start" fill="#000" >0.5 nmole</text>
<line x1="363.50" y1="397.60" x2="380.00" y2="397.60" stroke="#1e9bb4" stroke-width="2" />
<circle cx="371.5" cy="397.6" r="3.1" fill="#1e9bb4"/>
<text transform="translate(382,402.3) scale(1.13,1)" font-size="12.17" text-anchor="start" fill="#000" >1 nmole</text>
<line x1="363.50" y1="441.80" x2="380.00" y2="441.80" stroke="#8c8c8c" stroke-width="2" />
<circle cx="371.5" cy="441.8" r="3.1" fill="#8c8c8c"/>
<text transform="translate(382,446.5) scale(1.13,1)" font-size="12.17" text-anchor="start" fill="#000" >2 nmoles</text>
<line x1="363.50" y1="464.50" x2="380.00" y2="464.50" stroke="#ff0000" stroke-width="2" />
<circle cx="371.5" cy="464.5" r="3.1" fill="#ff0000"/>
<text transform="translate(382,469.2) scale(1.13,1)" font-size="12.17" text-anchor="start" fill="#000" >5 nmoles</text>
<line x1="363.50" y1="486.40" x2="380.00" y2="486.40" stroke="#aa1ee6" stroke-width="2" />
<circle cx="371.5" cy="486.4" r="3.1" fill="#aa1ee6"/>
<text transform="translate(382,491.09999999999997) scale(1.13,1)" font-size="12.17" text-anchor="start" fill="#000" >10 nmoles</text>
<path d="M413,260 H497.7 V465 H460" fill="none" stroke="#000" stroke-width="1.3"/>
<path d="M413,263 H486.8 V375.7 H460" fill="none" stroke="#000" stroke-width="1.3"/>
<path d="M413,266 H468.8 V304.7 H460" fill="none" stroke="#000" stroke-width="1.3"/>
<text x="460.3" y="292.6" font-size="15.4" text-anchor="start" >****</text>
<text x="471.7" y="336" font-size="15.4" text-anchor="start" >****</text>
<text x="485" y="416" font-size="15.4" text-anchor="start" >****</text>
<path d="M511.5,262 L540.5,479.7 L511.5,479.7 Z" fill="#000"/>
<text transform="translate(524.5,500.3) scale(1.13,1)" font-size="15.9" text-anchor="middle" fill="#fff" stroke="#000" stroke-width="0.9">NMDA</text>
<text transform="translate(1.5,551.5) scale(1.13,1)" font-size="19.91" text-anchor="start" fill="#000" >D</text>
<text transform="translate(218.3,551.5) scale(1.13,1)" font-size="16.28" text-anchor="middle" fill="#000" >Right eye</text>
<text transform="translate(74,580.8) scale(1.13,1)" font-size="12.17" text-anchor="start" fill="#000" >Intravitreal injection</text>
<text transform="translate(12.9,672.2) scale(1.08,1) rotate(-90)" font-size="16.15" text-anchor="middle">Spatial frequency threshold</text>
<text transform="translate(33.1,669.7) scale(1.08,1) rotate(-90)" font-size="16.15" text-anchor="middle">(cycle/degree)</text>
<line x1="70.10" y1="576.00" x2="70.10" y2="713.40" stroke="#000" stroke-width="2.2" />
<line x1="70.10" y1="722.20" x2="70.10" y2="758.10" stroke="#000" stroke-width="2.2" />
<line x1="69.00" y1="757.00" x2="348.00" y2="757.00" stroke="#000" stroke-width="2.2" />
<line x1="66.00" y1="576.75" x2="70.50" y2="576.75" stroke="#000" stroke-width="1.7" />
<text transform="translate(64,581.55) scale(1.13,1)" font-size="11.86" text-anchor="end" fill="#000" >0.5</text>
<line x1="66.00" y1="622.00" x2="70.50" y2="622.00" stroke="#000" stroke-width="1.7" />
<text transform="translate(64,626.8) scale(1.13,1)" font-size="11.86" text-anchor="end" fill="#000" >0.45</text>
<line x1="66.00" y1="667.25" x2="70.50" y2="667.25" stroke="#000" stroke-width="1.7" />
<text transform="translate(64,672.05) scale(1.13,1)" font-size="11.86" text-anchor="end" fill="#000" >0.4</text>
<line x1="65.80" y1="712.50" x2="74.20" y2="712.50" stroke="#000" stroke-width="1.8" />
<text transform="translate(64,717.3) scale(1.13,1)" font-size="11.86" text-anchor="end" fill="#000" >0.35</text>
<line x1="65.80" y1="723.00" x2="74.20" y2="723.00" stroke="#000" stroke-width="1.8" />
<line x1="66.00" y1="730.30" x2="70.50" y2="730.30" stroke="#000" stroke-width="1.7" />
<line x1="66.00" y1="739.00" x2="70.50" y2="739.00" stroke="#000" stroke-width="1.7" />
<line x1="66.00" y1="747.80" x2="70.50" y2="747.80" stroke="#000" stroke-width="1.7" />
<line x1="66.00" y1="757.00" x2="70.50" y2="757.00" stroke="#000" stroke-width="1.7" />
<text transform="translate(64,743.8) scale(1.13,1)" font-size="11.86" text-anchor="end" fill="#000" >0.2</text>
<text transform="translate(64,761.8) scale(1.13,1)" font-size="11.86" text-anchor="end" fill="#000" >0</text>
<line x1="77.60" y1="757.00" x2="77.60" y2="761.00" stroke="#000" stroke-width="1.7" />
<text transform="translate(76.2,773.2) scale(1.06,1)" font-size="10.00" text-anchor="middle" fill="#000" >-4</text>
<line x1="93.04" y1="757.00" x2="93.04" y2="761.00" stroke="#000" stroke-width="1.7" />
<text transform="translate(91.6,773.2) scale(1.06,1)" font-size="10.00" text-anchor="middle" fill="#000" >-3</text>
<line x1="108.48" y1="757.00" x2="108.48" y2="761.00" stroke="#000" stroke-width="1.7" />
<text transform="translate(107.1,773.2) scale(1.06,1)" font-size="10.00" text-anchor="middle" fill="#000" >-2</text>
<line x1="123.92" y1="757.00" x2="123.92" y2="761.00" stroke="#000" stroke-width="1.7" />
<text transform="translate(122.5,773.2) scale(1.06,1)" font-size="10.00" text-anchor="middle" fill="#000" >-1</text>
<line x1="139.36" y1="757.00" x2="139.36" y2="761.00" stroke="#000" stroke-width="1.7" />
<text transform="translate(139.4,773.2) scale(1.06,1)" font-size="10.00" text-anchor="middle" fill="#000" >0</text>
<line x1="154.80" y1="757.00" x2="154.80" y2="761.00" stroke="#000" stroke-width="1.7" />
<text transform="translate(154.8,773.2) scale(1.06,1)" font-size="10.00" text-anchor="middle" fill="#000" >1</text>
<line x1="170.24" y1="757.00" x2="170.24" y2="761.00" stroke="#000" stroke-width="1.7" />
<text transform="translate(170.2,773.2) scale(1.06,1)" font-size="10.00" text-anchor="middle" fill="#000" >2</text>
<line x1="185.68" y1="757.00" x2="185.68" y2="761.00" stroke="#000" stroke-width="1.7" />
<text transform="translate(185.7,773.2) scale(1.06,1)" font-size="10.00" text-anchor="middle" fill="#000" >3</text>
<line x1="201.12" y1="757.00" x2="201.12" y2="761.00" stroke="#000" stroke-width="1.7" />
<text transform="translate(201.1,773.2) scale(1.06,1)" font-size="10.00" text-anchor="middle" fill="#000" >4</text>
<line x1="216.56" y1="757.00" x2="216.56" y2="761.00" stroke="#000" stroke-width="1.7" />
<text transform="translate(216.6,773.2) scale(1.06,1)" font-size="10.00" text-anchor="middle" fill="#000" >5</text>
<line x1="232.00" y1="757.00" x2="232.00" y2="761.00" stroke="#000" stroke-width="1.7" />
<text transform="translate(232.0,773.2) scale(1.06,1)" font-size="10.00" text-anchor="middle" fill="#000" >6</text>
<line x1="247.44" y1="757.00" x2="247.44" y2="761.00" stroke="#000" stroke-width="1.7" />
<text transform="translate(247.4,773.2) scale(1.06,1)" font-size="10.00" text-anchor="middle" fill="#000" >7</text>
<line x1="262.88" y1="757.00" x2="262.88" y2="761.00" stroke="#000" stroke-width="1.7" />
<text transform="translate(262.9,773.2) scale(1.06,1)" font-size="10.00" text-anchor="middle" fill="#000" >8</text>
<line x1="278.32" y1="757.00" x2="278.32" y2="761.00" stroke="#000" stroke-width="1.7" />
<text transform="translate(278.3,773.2) scale(1.06,1)" font-size="10.00" text-anchor="middle" fill="#000" >10</text>
<line x1="293.76" y1="757.00" x2="293.76" y2="761.00" stroke="#000" stroke-width="1.7" />
<text transform="translate(293.8,773.2) scale(1.06,1)" font-size="10.00" text-anchor="middle" fill="#000" >12</text>
<line x1="309.20" y1="757.00" x2="309.20" y2="761.00" stroke="#000" stroke-width="1.7" />
<text transform="translate(309.2,773.2) scale(1.06,1)" font-size="10.00" text-anchor="middle" fill="#000" >14</text>
<line x1="324.64" y1="757.00" x2="324.64" y2="761.00" stroke="#000" stroke-width="1.7" />
<text transform="translate(324.6,773.2) scale(1.06,1)" font-size="10.00" text-anchor="middle" fill="#000" >16</text>
<line x1="340.08" y1="757.00" x2="340.08" y2="761.00" stroke="#000" stroke-width="1.7" />
<text transform="translate(340.1,773.2) scale(1.06,1)" font-size="10.00" text-anchor="middle" fill="#000" >19</text>
<text transform="translate(211,795) scale(1.13,1)" font-size="14.16" text-anchor="middle" fill="#000" >Time relative to injection (Days)</text>
<line x1="139.46" y1="586.00" x2="139.46" y2="597.50" stroke="#000" stroke-width="2.2" />
<path d="M135.16,593.9 L143.76000000000002,593.9 L139.46,602.5 Z" fill="#000"/>
<line x1="139.46" y1="603.00" x2="139.46" y2="757.00" stroke="#222" stroke-width="1.4" stroke-dasharray="8.5 3"/>
<path d="M77.30,682.07 L92.74,680.10 L108.18,676.66 L123.62,678.75 L139.06,675.44 L154.50,671.16 L169.94,668.15 L185.38,662.73 L200.82,657.54 L216.26,653.65 L231.70,650.69 L247.14,645.77 L262.58,638.29 L278.02,635.03 L293.46,631.96 L308.90,627.43 L324.34,622.06 L339.78,617.25" fill="none" stroke="#14c814" stroke-width="1.6" stroke-linejoin="round"/>
<path d="M77.30,680.26 V683.88 M75.70,680.26 h3.2 M75.70,683.88 h3.2" stroke="#14c814" stroke-width="1.2" fill="none"/>
<path d="M92.74,678.29 V681.91 M91.14,678.29 h3.2 M91.14,681.91 h3.2" stroke="#14c814" stroke-width="1.2" fill="none"/>
<path d="M108.18,674.85 V678.47 M106.58,674.85 h3.2 M106.58,678.47 h3.2" stroke="#14c814" stroke-width="1.2" fill="none"/>
<path d="M123.62,676.94 V680.56 M122.02,676.94 h3.2 M122.02,680.56 h3.2" stroke="#14c814" stroke-width="1.2" fill="none"/>
<path d="M139.06,673.63 V677.25 M137.46,673.63 h3.2 M137.46,677.25 h3.2" stroke="#14c814" stroke-width="1.2" fill="none"/>
<path d="M154.50,668.44 V673.87 M152.90,668.44 h3.2 M152.90,673.87 h3.2" stroke="#14c814" stroke-width="1.2" fill="none"/>
<path d="M169.94,665.30 V671.01 M168.34,665.30 h3.2 M168.34,671.01 h3.2" stroke="#14c814" stroke-width="1.2" fill="none"/>
<path d="M185.38,659.74 V665.71 M183.78,659.74 h3.2 M183.78,665.71 h3.2" stroke="#14c814" stroke-width="1.2" fill="none"/>
<path d="M200.82,654.42 V660.66 M199.22,654.42 h3.2 M199.22,660.66 h3.2" stroke="#14c814" stroke-width="1.2" fill="none"/>
<path d="M216.26,650.39 V656.91 M214.66,650.39 h3.2 M214.66,656.91 h3.2" stroke="#14c814" stroke-width="1.2" fill="none"/>
<path d="M231.70,647.29 V654.08 M230.10,647.29 h3.2 M230.10,654.08 h3.2" stroke="#14c814" stroke-width="1.2" fill="none"/>
<path d="M247.14,642.24 V649.29 M245.54,642.24 h3.2 M245.54,649.29 h3.2" stroke="#14c814" stroke-width="1.2" fill="none"/>
<path d="M262.58,634.62 V641.96 M260.98,634.62 h3.2 M260.98,641.96 h3.2" stroke="#14c814" stroke-width="1.2" fill="none"/>
<path d="M278.02,631.23 V638.83 M276.42,631.23 h3.2 M276.42,638.83 h3.2" stroke="#14c814" stroke-width="1.2" fill="none"/>
<path d="M293.46,628.02 V635.89 M291.86,628.02 h3.2 M291.86,635.89 h3.2" stroke="#14c814" stroke-width="1.2" fill="none"/>
<path d="M308.90,623.36 V631.50 M307.30,623.36 h3.2 M307.30,631.50 h3.2" stroke="#14c814" stroke-width="1.2" fill="none"/>
<path d="M324.34,617.85 V626.27 M322.74,617.85 h3.2 M322.74,626.27 h3.2" stroke="#14c814" stroke-width="1.2" fill="none"/>
<path d="M339.78,612.90 V621.59 M338.18,612.90 h3.2 M338.18,621.59 h3.2" stroke="#14c814" stroke-width="1.2" fill="none"/>
<rect x="76.15" y="680.92" width="2.3" height="2.3" fill="#14c814"/>
<rect x="91.59" y="678.95" width="2.3" height="2.3" fill="#14c814"/>
<rect x="107.03" y="675.51" width="2.3" height="2.3" fill="#14c814"/>
<rect x="122.47" y="677.60" width="2.3" height="2.3" fill="#14c814"/>
<rect x="137.91" y="674.29" width="2.3" height="2.3" fill="#14c814"/>
<rect x="153.35" y="670.01" width="2.3" height="2.3" fill="#14c814"/>
<rect x="168.79" y="667.00" width="2.3" height="2.3" fill="#14c814"/>
<rect x="184.23" y="661.58" width="2.3" height="2.3" fill="#14c814"/>
<rect x="199.67" y="656.39" width="2.3" height="2.3" fill="#14c814"/>
<rect x="215.11" y="652.50" width="2.3" height="2.3" fill="#14c814"/>
<rect x="230.55" y="649.54" width="2.3" height="2.3" fill="#14c814"/>
<rect x="245.99" y="644.62" width="2.3" height="2.3" fill="#14c814"/>
<rect x="261.43" y="637.14" width="2.3" height="2.3" fill="#14c814"/>
<rect x="276.87" y="633.88" width="2.3" height="2.3" fill="#14c814"/>
<rect x="292.31" y="630.81" width="2.3" height="2.3" fill="#14c814"/>
<rect x="307.75" y="626.28" width="2.3" height="2.3" fill="#14c814"/>
<rect x="323.19" y="620.91" width="2.3" height="2.3" fill="#14c814"/>
<rect x="338.63" y="616.10" width="2.3" height="2.3" fill="#14c814"/>
<path d="M77.30,681.12 L92.74,679.71 L108.18,678.81 L123.62,677.18 L139.06,675.36 L154.50,671.16 L169.94,666.89 L185.38,661.82 L200.82,660.17 L216.26,655.99 L231.70,653.22 L247.14,648.88 L262.58,643.00 L278.02,641.19 L293.46,637.61 L308.90,631.23 L324.34,624.37 L339.78,619.28" fill="none" stroke="#0000ff" stroke-width="1.6" stroke-linejoin="round"/>
<path d="M77.30,679.31 V682.93 M75.70,679.31 h3.2 M75.70,682.93 h3.2" stroke="#0000ff" stroke-width="1.2" fill="none"/>
<path d="M92.74,677.90 V681.52 M91.14,677.90 h3.2 M91.14,681.52 h3.2" stroke="#0000ff" stroke-width="1.2" fill="none"/>
<path d="M108.18,677.00 V680.62 M106.58,677.00 h3.2 M106.58,680.62 h3.2" stroke="#0000ff" stroke-width="1.2" fill="none"/>
<path d="M123.62,675.37 V678.99 M122.02,675.37 h3.2 M122.02,678.99 h3.2" stroke="#0000ff" stroke-width="1.2" fill="none"/>
<path d="M139.06,673.55 V677.17 M137.46,673.55 h3.2 M137.46,677.17 h3.2" stroke="#0000ff" stroke-width="1.2" fill="none"/>
<path d="M154.50,668.44 V673.87 M152.90,668.44 h3.2 M152.90,673.87 h3.2" stroke="#0000ff" stroke-width="1.2" fill="none"/>
<path d="M169.94,664.04 V669.74 M168.34,664.04 h3.2 M168.34,669.74 h3.2" stroke="#0000ff" stroke-width="1.2" fill="none"/>
<path d="M185.38,658.83 V664.81 M183.78,658.83 h3.2 M183.78,664.81 h3.2" stroke="#0000ff" stroke-width="1.2" fill="none"/>
<path d="M200.82,657.05 V663.30 M199.22,657.05 h3.2 M199.22,663.30 h3.2" stroke="#0000ff" stroke-width="1.2" fill="none"/>
<path d="M216.26,652.73 V659.25 M214.66,652.73 h3.2 M214.66,659.25 h3.2" stroke="#0000ff" stroke-width="1.2" fill="none"/>
<path d="M231.70,649.83 V656.62 M230.10,649.83 h3.2 M230.10,656.62 h3.2" stroke="#0000ff" stroke-width="1.2" fill="none"/>
<path d="M247.14,645.35 V652.41 M245.54,645.35 h3.2 M245.54,652.41 h3.2" stroke="#0000ff" stroke-width="1.2" fill="none"/>
<path d="M262.58,639.33 V646.66 M260.98,639.33 h3.2 M260.98,646.66 h3.2" stroke="#0000ff" stroke-width="1.2" fill="none"/>
<path d="M278.02,637.39 V644.99 M276.42,637.39 h3.2 M276.42,644.99 h3.2" stroke="#0000ff" stroke-width="1.2" fill="none"/>
<path d="M293.46,633.67 V641.55 M291.86,633.67 h3.2 M291.86,641.55 h3.2" stroke="#0000ff" stroke-width="1.2" fill="none"/>
<path d="M308.90,627.16 V635.30 M307.30,627.16 h3.2 M307.30,635.30 h3.2" stroke="#0000ff" stroke-width="1.2" fill="none"/>
<path d="M324.34,620.16 V628.58 M322.74,620.16 h3.2 M322.74,628.58 h3.2" stroke="#0000ff" stroke-width="1.2" fill="none"/>
<path d="M339.78,614.94 V623.63 M338.18,614.94 h3.2 M338.18,623.63 h3.2" stroke="#0000ff" stroke-width="1.2" fill="none"/>
<rect x="76.15" y="679.97" width="2.3" height="2.3" fill="#0000ff"/>
<rect x="91.59" y="678.56" width="2.3" height="2.3" fill="#0000ff"/>
<rect x="107.03" y="677.66" width="2.3" height="2.3" fill="#0000ff"/>
<rect x="122.47" y="676.03" width="2.3" height="2.3" fill="#0000ff"/>
<rect x="137.91" y="674.21" width="2.3" height="2.3" fill="#0000ff"/>
<rect x="153.35" y="670.01" width="2.3" height="2.3" fill="#0000ff"/>
<rect x="168.79" y="665.74" width="2.3" height="2.3" fill="#0000ff"/>
<rect x="184.23" y="660.67" width="2.3" height="2.3" fill="#0000ff"/>
<rect x="199.67" y="659.02" width="2.3" height="2.3" fill="#0000ff"/>
<rect x="215.11" y="654.84" width="2.3" height="2.3" fill="#0000ff"/>
<rect x="230.55" y="652.07" width="2.3" height="2.3" fill="#0000ff"/>
<rect x="245.99" y="647.73" width="2.3" height="2.3" fill="#0000ff"/>
<rect x="261.43" y="641.85" width="2.3" height="2.3" fill="#0000ff"/>
<rect x="276.87" y="640.04" width="2.3" height="2.3" fill="#0000ff"/>
<rect x="292.31" y="636.46" width="2.3" height="2.3" fill="#0000ff"/>
<rect x="307.75" y="630.08" width="2.3" height="2.3" fill="#0000ff"/>
<rect x="323.19" y="623.22" width="2.3" height="2.3" fill="#0000ff"/>
<rect x="338.63" y="618.13" width="2.3" height="2.3" fill="#0000ff"/>
<path d="M77.30,683.37 L92.74,679.59 L108.18,678.76 L123.62,678.69 L139.06,675.44 L154.50,668.34 L169.94,663.09 L185.38,664.54 L200.82,661.05 L216.26,657.33 L231.70,654.49 L247.14,650.44 L262.58,647.70 L278.02,645.49 L293.46,641.00 L308.90,633.51 L324.34,626.35 L339.78,621.32" fill="none" stroke="#960000" stroke-width="1.6" stroke-linejoin="round"/>
<path d="M77.30,681.56 V685.18 M75.70,681.56 h3.2 M75.70,685.18 h3.2" stroke="#960000" stroke-width="1.2" fill="none"/>
<path d="M92.74,677.78 V681.40 M91.14,677.78 h3.2 M91.14,681.40 h3.2" stroke="#960000" stroke-width="1.2" fill="none"/>
<path d="M108.18,676.95 V680.57 M106.58,676.95 h3.2 M106.58,680.57 h3.2" stroke="#960000" stroke-width="1.2" fill="none"/>
<path d="M123.62,676.88 V680.50 M122.02,676.88 h3.2 M122.02,680.50 h3.2" stroke="#960000" stroke-width="1.2" fill="none"/>
<path d="M139.06,673.63 V677.25 M137.46,673.63 h3.2 M137.46,677.25 h3.2" stroke="#960000" stroke-width="1.2" fill="none"/>
<path d="M154.50,665.62 V671.05 M152.90,665.62 h3.2 M152.90,671.05 h3.2" stroke="#960000" stroke-width="1.2" fill="none"/>
<path d="M169.94,660.24 V665.94 M168.34,660.24 h3.2 M168.34,665.94 h3.2" stroke="#960000" stroke-width="1.2" fill="none"/>
<path d="M185.38,661.55 V667.52 M183.78,661.55 h3.2 M183.78,667.52 h3.2" stroke="#960000" stroke-width="1.2" fill="none"/>
<path d="M200.82,657.93 V664.17 M199.22,657.93 h3.2 M199.22,664.17 h3.2" stroke="#960000" stroke-width="1.2" fill="none"/>
<path d="M216.26,654.07 V660.59 M214.66,654.07 h3.2 M214.66,660.59 h3.2" stroke="#960000" stroke-width="1.2" fill="none"/>
<path d="M231.70,651.10 V657.88 M230.10,651.10 h3.2 M230.10,657.88 h3.2" stroke="#960000" stroke-width="1.2" fill="none"/>
<path d="M247.14,646.91 V653.96 M245.54,646.91 h3.2 M245.54,653.96 h3.2" stroke="#960000" stroke-width="1.2" fill="none"/>
<path d="M262.58,644.04 V651.37 M260.98,644.04 h3.2 M260.98,651.37 h3.2" stroke="#960000" stroke-width="1.2" fill="none"/>
<path d="M278.02,641.69 V649.29 M276.42,641.69 h3.2 M276.42,649.29 h3.2" stroke="#960000" stroke-width="1.2" fill="none"/>
<path d="M293.46,637.07 V644.94 M291.86,637.07 h3.2 M291.86,644.94 h3.2" stroke="#960000" stroke-width="1.2" fill="none"/>
<path d="M308.90,629.44 V637.58 M307.30,629.44 h3.2 M307.30,637.58 h3.2" stroke="#960000" stroke-width="1.2" fill="none"/>
<path d="M324.34,622.14 V630.56 M322.74,622.14 h3.2 M322.74,630.56 h3.2" stroke="#960000" stroke-width="1.2" fill="none"/>
<path d="M339.78,616.98 V625.67 M338.18,616.98 h3.2 M338.18,625.67 h3.2" stroke="#960000" stroke-width="1.2" fill="none"/>
<rect x="76.15" y="682.22" width="2.3" height="2.3" fill="#960000"/>
<rect x="91.59" y="678.44" width="2.3" height="2.3" fill="#960000"/>
<rect x="107.03" y="677.61" width="2.3" height="2.3" fill="#960000"/>
<rect x="122.47" y="677.54" width="2.3" height="2.3" fill="#960000"/>
<rect x="137.91" y="674.29" width="2.3" height="2.3" fill="#960000"/>
<rect x="153.35" y="667.19" width="2.3" height="2.3" fill="#960000"/>
<rect x="168.79" y="661.94" width="2.3" height="2.3" fill="#960000"/>
<rect x="184.23" y="663.39" width="2.3" height="2.3" fill="#960000"/>
<rect x="199.67" y="659.90" width="2.3" height="2.3" fill="#960000"/>
<rect x="215.11" y="656.18" width="2.3" height="2.3" fill="#960000"/>
<rect x="230.55" y="653.34" width="2.3" height="2.3" fill="#960000"/>
<rect x="245.99" y="649.29" width="2.3" height="2.3" fill="#960000"/>
<rect x="261.43" y="646.55" width="2.3" height="2.3" fill="#960000"/>
<rect x="276.87" y="644.34" width="2.3" height="2.3" fill="#960000"/>
<rect x="292.31" y="639.86" width="2.3" height="2.3" fill="#960000"/>
<rect x="307.75" y="632.36" width="2.3" height="2.3" fill="#960000"/>
<rect x="323.19" y="625.20" width="2.3" height="2.3" fill="#960000"/>
<rect x="338.63" y="620.17" width="2.3" height="2.3" fill="#960000"/>
<path d="M77.30,681.62 L92.74,678.88 L108.18,678.57 L123.62,678.21 L139.06,675.44 L154.50,671.16 L169.94,661.82 L185.38,662.73 L200.82,661.05 L216.26,657.33 L231.70,654.49 L247.14,651.21 L262.58,648.88 L278.02,646.11 L293.46,642.14 L308.90,633.51 L324.34,627.67 L339.78,623.36" fill="none" stroke="#c8c814" stroke-width="1.6" stroke-linejoin="round"/>
<path d="M77.30,679.81 V683.43 M75.70,679.81 h3.2 M75.70,683.43 h3.2" stroke="#c8c814" stroke-width="1.2" fill="none"/>
<path d="M92.74,677.07 V680.69 M91.14,677.07 h3.2 M91.14,680.69 h3.2" stroke="#c8c814" stroke-width="1.2" fill="none"/>
<path d="M108.18,676.76 V680.38 M106.58,676.76 h3.2 M106.58,680.38 h3.2" stroke="#c8c814" stroke-width="1.2" fill="none"/>
<path d="M123.62,676.40 V680.02 M122.02,676.40 h3.2 M122.02,680.02 h3.2" stroke="#c8c814" stroke-width="1.2" fill="none"/>
<path d="M139.06,673.63 V677.25 M137.46,673.63 h3.2 M137.46,677.25 h3.2" stroke="#c8c814" stroke-width="1.2" fill="none"/>
<path d="M154.50,668.44 V673.87 M152.90,668.44 h3.2 M152.90,673.87 h3.2" stroke="#c8c814" stroke-width="1.2" fill="none"/>
<path d="M169.94,658.97 V664.67 M168.34,658.97 h3.2 M168.34,664.67 h3.2" stroke="#c8c814" stroke-width="1.2" fill="none"/>
<path d="M185.38,659.74 V665.71 M183.78,659.74 h3.2 M183.78,665.71 h3.2" stroke="#c8c814" stroke-width="1.2" fill="none"/>
<path d="M200.82,657.93 V664.17 M199.22,657.93 h3.2 M199.22,664.17 h3.2" stroke="#c8c814" stroke-width="1.2" fill="none"/>
<path d="M216.26,654.07 V660.59 M214.66,654.07 h3.2 M214.66,660.59 h3.2" stroke="#c8c814" stroke-width="1.2" fill="none"/>
<path d="M231.70,651.10 V657.88 M230.10,651.10 h3.2 M230.10,657.88 h3.2" stroke="#c8c814" stroke-width="1.2" fill="none"/>
<path d="M247.14,647.68 V654.74 M245.54,647.68 h3.2 M245.54,654.74 h3.2" stroke="#c8c814" stroke-width="1.2" fill="none"/>
<path d="M262.58,645.21 V652.54 M260.98,645.21 h3.2 M260.98,652.54 h3.2" stroke="#c8c814" stroke-width="1.2" fill="none"/>
<path d="M278.02,642.31 V649.91 M276.42,642.31 h3.2 M276.42,649.91 h3.2" stroke="#c8c814" stroke-width="1.2" fill="none"/>
<path d="M293.46,638.20 V646.07 M291.86,638.20 h3.2 M291.86,646.07 h3.2" stroke="#c8c814" stroke-width="1.2" fill="none"/>
<path d="M308.90,629.44 V637.58 M307.30,629.44 h3.2 M307.30,637.58 h3.2" stroke="#c8c814" stroke-width="1.2" fill="none"/>
<path d="M324.34,623.47 V631.88 M322.74,623.47 h3.2 M322.74,631.88 h3.2" stroke="#c8c814" stroke-width="1.2" fill="none"/>
<path d="M339.78,619.01 V627.70 M338.18,619.01 h3.2 M338.18,627.70 h3.2" stroke="#c8c814" stroke-width="1.2" fill="none"/>
<rect x="76.15" y="680.47" width="2.3" height="2.3" fill="#c8c814"/>
<rect x="91.59" y="677.73" width="2.3" height="2.3" fill="#c8c814"/>
<rect x="107.03" y="677.42" width="2.3" height="2.3" fill="#c8c814"/>
<rect x="122.47" y="677.06" width="2.3" height="2.3" fill="#c8c814"/>
<rect x="137.91" y="674.29" width="2.3" height="2.3" fill="#c8c814"/>
<rect x="153.35" y="670.01" width="2.3" height="2.3" fill="#c8c814"/>
<rect x="168.79" y="660.67" width="2.3" height="2.3" fill="#c8c814"/>
<rect x="184.23" y="661.58" width="2.3" height="2.3" fill="#c8c814"/>
<rect x="199.67" y="659.90" width="2.3" height="2.3" fill="#c8c814"/>
<rect x="215.11" y="656.18" width="2.3" height="2.3" fill="#c8c814"/>
<rect x="230.55" y="653.34" width="2.3" height="2.3" fill="#c8c814"/>
<rect x="245.99" y="650.06" width="2.3" height="2.3" fill="#c8c814"/>
<rect x="261.43" y="647.73" width="2.3" height="2.3" fill="#c8c814"/>
<rect x="276.87" y="644.96" width="2.3" height="2.3" fill="#c8c814"/>
<rect x="292.31" y="640.99" width="2.3" height="2.3" fill="#c8c814"/>
<rect x="307.75" y="632.36" width="2.3" height="2.3" fill="#c8c814"/>
<rect x="323.19" y="626.52" width="2.3" height="2.3" fill="#c8c814"/>
<rect x="338.63" y="622.21" width="2.3" height="2.3" fill="#c8c814"/>
<path d="M77.30,680.70 L92.74,678.66 L108.18,676.93 L123.62,677.58 L139.06,675.44 L154.50,671.87 L169.94,666.89 L185.38,665.44 L200.82,661.93 L216.26,658.00 L231.70,655.12 L247.14,651.99 L262.58,650.06 L278.02,647.34 L293.46,643.27 L308.90,634.27 L324.34,627.01 L339.78,621.32" fill="none" stroke="#1e9bb4" stroke-width="1.6" stroke-linejoin="round"/>
<path d="M77.30,678.89 V682.51 M75.70,678.89 h3.2 M75.70,682.51 h3.2" stroke="#1e9bb4" stroke-width="1.2" fill="none"/>
<path d="M92.74,676.85 V680.47 M91.14,676.85 h3.2 M91.14,680.47 h3.2" stroke="#1e9bb4" stroke-width="1.2" fill="none"/>
<path d="M108.18,675.12 V678.74 M106.58,675.12 h3.2 M106.58,678.74 h3.2" stroke="#1e9bb4" stroke-width="1.2" fill="none"/>
<path d="M123.62,675.77 V679.39 M122.02,675.77 h3.2 M122.02,679.39 h3.2" stroke="#1e9bb4" stroke-width="1.2" fill="none"/>
<path d="M139.06,673.63 V677.25 M137.46,673.63 h3.2 M137.46,677.25 h3.2" stroke="#1e9bb4" stroke-width="1.2" fill="none"/>
<path d="M154.50,669.15 V674.58 M152.90,669.15 h3.2 M152.90,674.58 h3.2" stroke="#1e9bb4" stroke-width="1.2" fill="none"/>
<path d="M169.94,664.04 V669.74 M168.34,664.04 h3.2 M168.34,669.74 h3.2" stroke="#1e9bb4" stroke-width="1.2" fill="none"/>
<path d="M185.38,662.45 V668.43 M183.78,662.45 h3.2 M183.78,668.43 h3.2" stroke="#1e9bb4" stroke-width="1.2" fill="none"/>
<path d="M200.82,658.81 V665.05 M199.22,658.81 h3.2 M199.22,665.05 h3.2" stroke="#1e9bb4" stroke-width="1.2" fill="none"/>
<path d="M216.26,654.74 V661.26 M214.66,654.74 h3.2 M214.66,661.26 h3.2" stroke="#1e9bb4" stroke-width="1.2" fill="none"/>
<path d="M231.70,651.73 V658.52 M230.10,651.73 h3.2 M230.10,658.52 h3.2" stroke="#1e9bb4" stroke-width="1.2" fill="none"/>
<path d="M247.14,648.46 V655.52 M245.54,648.46 h3.2 M245.54,655.52 h3.2" stroke="#1e9bb4" stroke-width="1.2" fill="none"/>
<path d="M262.58,646.39 V653.72 M260.98,646.39 h3.2 M260.98,653.72 h3.2" stroke="#1e9bb4" stroke-width="1.2" fill="none"/>
<path d="M278.02,643.54 V651.14 M276.42,643.54 h3.2 M276.42,651.14 h3.2" stroke="#1e9bb4" stroke-width="1.2" fill="none"/>
<path d="M293.46,639.33 V647.20 M291.86,639.33 h3.2 M291.86,647.20 h3.2" stroke="#1e9bb4" stroke-width="1.2" fill="none"/>
<path d="M308.90,630.20 V638.34 M307.30,630.20 h3.2 M307.30,638.34 h3.2" stroke="#1e9bb4" stroke-width="1.2" fill="none"/>
<path d="M324.34,622.81 V631.22 M322.74,622.81 h3.2 M322.74,631.22 h3.2" stroke="#1e9bb4" stroke-width="1.2" fill="none"/>
<path d="M339.78,616.98 V625.67 M338.18,616.98 h3.2 M338.18,625.67 h3.2" stroke="#1e9bb4" stroke-width="1.2" fill="none"/>
<rect x="76.15" y="679.55" width="2.3" height="2.3" fill="#1e9bb4"/>
<rect x="91.59" y="677.51" width="2.3" height="2.3" fill="#1e9bb4"/>
<rect x="107.03" y="675.78" width="2.3" height="2.3" fill="#1e9bb4"/>
<rect x="122.47" y="676.43" width="2.3" height="2.3" fill="#1e9bb4"/>
<rect x="137.91" y="674.29" width="2.3" height="2.3" fill="#1e9bb4"/>
<rect x="153.35" y="670.72" width="2.3" height="2.3" fill="#1e9bb4"/>
<rect x="168.79" y="665.74" width="2.3" height="2.3" fill="#1e9bb4"/>
<rect x="184.23" y="664.29" width="2.3" height="2.3" fill="#1e9bb4"/>
<rect x="199.67" y="660.78" width="2.3" height="2.3" fill="#1e9bb4"/>
<rect x="215.11" y="656.85" width="2.3" height="2.3" fill="#1e9bb4"/>
<rect x="230.55" y="653.97" width="2.3" height="2.3" fill="#1e9bb4"/>
<rect x="245.99" y="650.84" width="2.3" height="2.3" fill="#1e9bb4"/>
<rect x="261.43" y="648.91" width="2.3" height="2.3" fill="#1e9bb4"/>
<rect x="276.87" y="646.19" width="2.3" height="2.3" fill="#1e9bb4"/>
<rect x="292.31" y="642.12" width="2.3" height="2.3" fill="#1e9bb4"/>
<rect x="307.75" y="633.12" width="2.3" height="2.3" fill="#1e9bb4"/>
<rect x="323.19" y="625.86" width="2.3" height="2.3" fill="#1e9bb4"/>
<rect x="338.63" y="620.17" width="2.3" height="2.3" fill="#1e9bb4"/>
<path d="M77.30,679.12 L92.74,680.29 L108.18,675.91 L123.62,677.97 L139.06,675.44 L154.50,671.87 L169.94,666.89 L185.38,664.54 L200.82,659.30 L216.26,655.32 L231.70,651.32 L247.14,645.77 L262.58,638.88 L278.02,636.26 L293.46,634.22 L308.90,628.95 L324.34,622.39 L339.78,616.57" fill="none" stroke="#8c8c8c" stroke-width="1.6" stroke-linejoin="round"/>
<path d="M77.30,677.31 V680.93 M75.70,677.31 h3.2 M75.70,680.93 h3.2" stroke="#8c8c8c" stroke-width="1.2" fill="none"/>
<path d="M92.74,678.48 V682.10 M91.14,678.48 h3.2 M91.14,682.10 h3.2" stroke="#8c8c8c" stroke-width="1.2" fill="none"/>
<path d="M108.18,674.10 V677.72 M106.58,674.10 h3.2 M106.58,677.72 h3.2" stroke="#8c8c8c" stroke-width="1.2" fill="none"/>
<path d="M123.62,676.16 V679.78 M122.02,676.16 h3.2 M122.02,679.78 h3.2" stroke="#8c8c8c" stroke-width="1.2" fill="none"/>
<path d="M139.06,673.63 V677.25 M137.46,673.63 h3.2 M137.46,677.25 h3.2" stroke="#8c8c8c" stroke-width="1.2" fill="none"/>
<path d="M154.50,669.15 V674.58 M152.90,669.15 h3.2 M152.90,674.58 h3.2" stroke="#8c8c8c" stroke-width="1.2" fill="none"/>
<path d="M169.94,664.04 V669.74 M168.34,664.04 h3.2 M168.34,669.74 h3.2" stroke="#8c8c8c" stroke-width="1.2" fill="none"/>
<path d="M185.38,661.55 V667.52 M183.78,661.55 h3.2 M183.78,667.52 h3.2" stroke="#8c8c8c" stroke-width="1.2" fill="none"/>
<path d="M200.82,656.17 V662.42 M199.22,656.17 h3.2 M199.22,662.42 h3.2" stroke="#8c8c8c" stroke-width="1.2" fill="none"/>
<path d="M216.26,652.06 V658.58 M214.66,652.06 h3.2 M214.66,658.58 h3.2" stroke="#8c8c8c" stroke-width="1.2" fill="none"/>
<path d="M231.70,647.93 V654.72 M230.10,647.93 h3.2 M230.10,654.72 h3.2" stroke="#8c8c8c" stroke-width="1.2" fill="none"/>
<path d="M247.14,642.24 V649.29 M245.54,642.24 h3.2 M245.54,649.29 h3.2" stroke="#8c8c8c" stroke-width="1.2" fill="none"/>
<path d="M262.58,635.21 V642.54 M260.98,635.21 h3.2 M260.98,642.54 h3.2" stroke="#8c8c8c" stroke-width="1.2" fill="none"/>
<path d="M278.02,632.46 V640.06 M276.42,632.46 h3.2 M276.42,640.06 h3.2" stroke="#8c8c8c" stroke-width="1.2" fill="none"/>
<path d="M293.46,630.28 V638.15 M291.86,630.28 h3.2 M291.86,638.15 h3.2" stroke="#8c8c8c" stroke-width="1.2" fill="none"/>
<path d="M308.90,624.88 V633.02 M307.30,624.88 h3.2 M307.30,633.02 h3.2" stroke="#8c8c8c" stroke-width="1.2" fill="none"/>
<path d="M324.34,618.18 V626.60 M322.74,618.18 h3.2 M322.74,626.60 h3.2" stroke="#8c8c8c" stroke-width="1.2" fill="none"/>
<path d="M339.78,612.23 V620.91 M338.18,612.23 h3.2 M338.18,620.91 h3.2" stroke="#8c8c8c" stroke-width="1.2" fill="none"/>
<rect x="76.15" y="677.97" width="2.3" height="2.3" fill="#8c8c8c"/>
<rect x="91.59" y="679.14" width="2.3" height="2.3" fill="#8c8c8c"/>
<rect x="107.03" y="674.76" width="2.3" height="2.3" fill="#8c8c8c"/>
<rect x="122.47" y="676.82" width="2.3" height="2.3" fill="#8c8c8c"/>
<rect x="137.91" y="674.29" width="2.3" height="2.3" fill="#8c8c8c"/>
<rect x="153.35" y="670.72" width="2.3" height="2.3" fill="#8c8c8c"/>
<rect x="168.79" y="665.74" width="2.3" height="2.3" fill="#8c8c8c"/>
<rect x="184.23" y="663.39" width="2.3" height="2.3" fill="#8c8c8c"/>
<rect x="199.67" y="658.15" width="2.3" height="2.3" fill="#8c8c8c"/>
<rect x="215.11" y="654.17" width="2.3" height="2.3" fill="#8c8c8c"/>
<rect x="230.55" y="650.17" width="2.3" height="2.3" fill="#8c8c8c"/>
<rect x="245.99" y="644.62" width="2.3" height="2.3" fill="#8c8c8c"/>
<rect x="261.43" y="637.73" width="2.3" height="2.3" fill="#8c8c8c"/>
<rect x="276.87" y="635.11" width="2.3" height="2.3" fill="#8c8c8c"/>
<rect x="292.31" y="633.07" width="2.3" height="2.3" fill="#8c8c8c"/>
<rect x="307.75" y="627.80" width="2.3" height="2.3" fill="#8c8c8c"/>
<rect x="323.19" y="621.24" width="2.3" height="2.3" fill="#8c8c8c"/>
<rect x="338.63" y="615.42" width="2.3" height="2.3" fill="#8c8c8c"/>
<path d="M77.30,682.89 L92.74,680.16 L108.18,677.90 L123.62,676.06 L139.06,675.44 L154.50,669.04 L169.94,665.62 L185.38,663.63 L200.82,659.30 L216.26,655.32 L231.70,651.96 L247.14,646.54 L262.58,639.47 L278.02,636.26 L293.46,635.35 L308.90,629.71 L324.34,623.71 L339.78,618.61" fill="none" stroke="#ff0000" stroke-width="1.6" stroke-linejoin="round"/>
<path d="M77.30,681.08 V684.70 M75.70,681.08 h3.2 M75.70,684.70 h3.2" stroke="#ff0000" stroke-width="1.2" fill="none"/>
<path d="M92.74,678.35 V681.97 M91.14,678.35 h3.2 M91.14,681.97 h3.2" stroke="#ff0000" stroke-width="1.2" fill="none"/>
<path d="M108.18,676.09 V679.71 M106.58,676.09 h3.2 M106.58,679.71 h3.2" stroke="#ff0000" stroke-width="1.2" fill="none"/>
<path d="M123.62,674.25 V677.87 M122.02,674.25 h3.2 M122.02,677.87 h3.2" stroke="#ff0000" stroke-width="1.2" fill="none"/>
<path d="M139.06,673.63 V677.25 M137.46,673.63 h3.2 M137.46,677.25 h3.2" stroke="#ff0000" stroke-width="1.2" fill="none"/>
<path d="M154.50,666.33 V671.76 M152.90,666.33 h3.2 M152.90,671.76 h3.2" stroke="#ff0000" stroke-width="1.2" fill="none"/>
<path d="M169.94,662.77 V668.47 M168.34,662.77 h3.2 M168.34,668.47 h3.2" stroke="#ff0000" stroke-width="1.2" fill="none"/>
<path d="M185.38,660.64 V666.62 M183.78,660.64 h3.2 M183.78,666.62 h3.2" stroke="#ff0000" stroke-width="1.2" fill="none"/>
<path d="M200.82,656.17 V662.42 M199.22,656.17 h3.2 M199.22,662.42 h3.2" stroke="#ff0000" stroke-width="1.2" fill="none"/>
<path d="M216.26,652.06 V658.58 M214.66,652.06 h3.2 M214.66,658.58 h3.2" stroke="#ff0000" stroke-width="1.2" fill="none"/>
<path d="M231.70,648.56 V655.35 M230.10,648.56 h3.2 M230.10,655.35 h3.2" stroke="#ff0000" stroke-width="1.2" fill="none"/>
<path d="M247.14,643.01 V650.07 M245.54,643.01 h3.2 M245.54,650.07 h3.2" stroke="#ff0000" stroke-width="1.2" fill="none"/>
<path d="M262.58,635.80 V643.13 M260.98,635.80 h3.2 M260.98,643.13 h3.2" stroke="#ff0000" stroke-width="1.2" fill="none"/>
<path d="M278.02,632.46 V640.06 M276.42,632.46 h3.2 M276.42,640.06 h3.2" stroke="#ff0000" stroke-width="1.2" fill="none"/>
<path d="M293.46,631.41 V639.29 M291.86,631.41 h3.2 M291.86,639.29 h3.2" stroke="#ff0000" stroke-width="1.2" fill="none"/>
<path d="M308.90,625.64 V633.78 M307.30,625.64 h3.2 M307.30,633.78 h3.2" stroke="#ff0000" stroke-width="1.2" fill="none"/>
<path d="M324.34,619.50 V627.92 M322.74,619.50 h3.2 M322.74,627.92 h3.2" stroke="#ff0000" stroke-width="1.2" fill="none"/>
<path d="M339.78,614.26 V622.95 M338.18,614.26 h3.2 M338.18,622.95 h3.2" stroke="#ff0000" stroke-width="1.2" fill="none"/>
<rect x="76.15" y="681.74" width="2.3" height="2.3" fill="#ff0000"/>
<rect x="91.59" y="679.01" width="2.3" height="2.3" fill="#ff0000"/>
<rect x="107.03" y="676.75" width="2.3" height="2.3" fill="#ff0000"/>
<rect x="122.47" y="674.91" width="2.3" height="2.3" fill="#ff0000"/>
<rect x="137.91" y="674.29" width="2.3" height="2.3" fill="#ff0000"/>
<rect x="153.35" y="667.89" width="2.3" height="2.3" fill="#ff0000"/>
<rect x="168.79" y="664.47" width="2.3" height="2.3" fill="#ff0000"/>
<rect x="184.23" y="662.48" width="2.3" height="2.3" fill="#ff0000"/>
<rect x="199.67" y="658.15" width="2.3" height="2.3" fill="#ff0000"/>
<rect x="215.11" y="654.17" width="2.3" height="2.3" fill="#ff0000"/>
<rect x="230.55" y="650.81" width="2.3" height="2.3" fill="#ff0000"/>
<rect x="245.99" y="645.39" width="2.3" height="2.3" fill="#ff0000"/>
<rect x="261.43" y="638.32" width="2.3" height="2.3" fill="#ff0000"/>
<rect x="276.87" y="635.11" width="2.3" height="2.3" fill="#ff0000"/>
<rect x="292.31" y="634.20" width="2.3" height="2.3" fill="#ff0000"/>
<rect x="307.75" y="628.56" width="2.3" height="2.3" fill="#ff0000"/>
<rect x="323.19" y="622.56" width="2.3" height="2.3" fill="#ff0000"/>
<rect x="338.63" y="617.46" width="2.3" height="2.3" fill="#ff0000"/>
<path d="M77.30,682.72 L92.74,679.32 L108.18,676.70 L123.62,677.67 L139.06,675.68 L154.50,675.39 L169.94,674.49 L185.38,669.97 L200.82,665.44 L216.26,656.66 L231.70,653.22 L247.14,649.66 L262.58,646.53 L278.02,643.65 L293.46,638.74 L308.90,631.23 L324.34,625.03 L339.78,619.28" fill="none" stroke="#aa1ee6" stroke-width="1.6" stroke-linejoin="round"/>
<path d="M77.30,680.91 V684.53 M75.70,680.91 h3.2 M75.70,684.53 h3.2" stroke="#aa1ee6" stroke-width="1.2" fill="none"/>
<path d="M92.74,677.51 V681.13 M91.14,677.51 h3.2 M91.14,681.13 h3.2" stroke="#aa1ee6" stroke-width="1.2" fill="none"/>
<path d="M108.18,674.89 V678.51 M106.58,674.89 h3.2 M106.58,678.51 h3.2" stroke="#aa1ee6" stroke-width="1.2" fill="none"/>
<path d="M123.62,675.86 V679.48 M122.02,675.86 h3.2 M122.02,679.48 h3.2" stroke="#aa1ee6" stroke-width="1.2" fill="none"/>
<path d="M139.06,673.87 V677.49 M137.46,673.87 h3.2 M137.46,677.49 h3.2" stroke="#aa1ee6" stroke-width="1.2" fill="none"/>
<path d="M154.50,672.68 V678.11 M152.90,672.68 h3.2 M152.90,678.11 h3.2" stroke="#aa1ee6" stroke-width="1.2" fill="none"/>
<path d="M169.94,671.64 V677.34 M168.34,671.64 h3.2 M168.34,677.34 h3.2" stroke="#aa1ee6" stroke-width="1.2" fill="none"/>
<path d="M185.38,666.98 V672.95 M183.78,666.98 h3.2 M183.78,672.95 h3.2" stroke="#aa1ee6" stroke-width="1.2" fill="none"/>
<path d="M200.82,662.32 V668.56 M199.22,662.32 h3.2 M199.22,668.56 h3.2" stroke="#aa1ee6" stroke-width="1.2" fill="none"/>
<path d="M216.26,653.40 V659.92 M214.66,653.40 h3.2 M214.66,659.92 h3.2" stroke="#aa1ee6" stroke-width="1.2" fill="none"/>
<path d="M231.70,649.83 V656.62 M230.10,649.83 h3.2 M230.10,656.62 h3.2" stroke="#aa1ee6" stroke-width="1.2" fill="none"/>
<path d="M247.14,646.13 V653.19 M245.54,646.13 h3.2 M245.54,653.19 h3.2" stroke="#aa1ee6" stroke-width="1.2" fill="none"/>
<path d="M262.58,642.86 V650.19 M260.98,642.86 h3.2 M260.98,650.19 h3.2" stroke="#aa1ee6" stroke-width="1.2" fill="none"/>
<path d="M278.02,639.85 V647.45 M276.42,639.85 h3.2 M276.42,647.45 h3.2" stroke="#aa1ee6" stroke-width="1.2" fill="none"/>
<path d="M293.46,634.81 V642.68 M291.86,634.81 h3.2 M291.86,642.68 h3.2" stroke="#aa1ee6" stroke-width="1.2" fill="none"/>
<path d="M308.90,627.16 V635.30 M307.30,627.16 h3.2 M307.30,635.30 h3.2" stroke="#aa1ee6" stroke-width="1.2" fill="none"/>
<path d="M324.34,620.82 V629.24 M322.74,620.82 h3.2 M322.74,629.24 h3.2" stroke="#aa1ee6" stroke-width="1.2" fill="none"/>
<path d="M339.78,614.94 V623.63 M338.18,614.94 h3.2 M338.18,623.63 h3.2" stroke="#aa1ee6" stroke-width="1.2" fill="none"/>
<rect x="76.15" y="681.57" width="2.3" height="2.3" fill="#aa1ee6"/>
<rect x="91.59" y="678.17" width="2.3" height="2.3" fill="#aa1ee6"/>
<rect x="107.03" y="675.55" width="2.3" height="2.3" fill="#aa1ee6"/>
<rect x="122.47" y="676.52" width="2.3" height="2.3" fill="#aa1ee6"/>
<rect x="137.91" y="674.53" width="2.3" height="2.3" fill="#aa1ee6"/>
<rect x="153.35" y="674.25" width="2.3" height="2.3" fill="#aa1ee6"/>
<rect x="168.79" y="673.34" width="2.3" height="2.3" fill="#aa1ee6"/>
<rect x="184.23" y="668.82" width="2.3" height="2.3" fill="#aa1ee6"/>
<rect x="199.67" y="664.29" width="2.3" height="2.3" fill="#aa1ee6"/>
<rect x="215.11" y="655.51" width="2.3" height="2.3" fill="#aa1ee6"/>
<rect x="230.55" y="652.07" width="2.3" height="2.3" fill="#aa1ee6"/>
<rect x="245.99" y="648.51" width="2.3" height="2.3" fill="#aa1ee6"/>
<rect x="261.43" y="645.38" width="2.3" height="2.3" fill="#aa1ee6"/>
<rect x="276.87" y="642.50" width="2.3" height="2.3" fill="#aa1ee6"/>
<rect x="292.31" y="637.59" width="2.3" height="2.3" fill="#aa1ee6"/>
<rect x="307.75" y="630.08" width="2.3" height="2.3" fill="#aa1ee6"/>
<rect x="323.19" y="623.88" width="2.3" height="2.3" fill="#aa1ee6"/>
<rect x="338.63" y="618.13" width="2.3" height="2.3" fill="#aa1ee6"/>
<path d="M77.30,681.06 L92.74,680.26 L108.18,678.80 L123.62,678.27 L139.06,675.60 L154.50,673.28 L169.94,669.42 L185.38,665.44 L200.82,660.17 L216.26,656.66 L231.70,653.86 L247.14,648.88 L262.58,643.00 L278.02,641.19 L293.46,637.61 L308.90,630.47 L324.34,624.37 L339.78,619.96" fill="none" stroke="#ff5fd0" stroke-width="1.6" stroke-linejoin="round"/>
<path d="M77.30,679.25 V682.87 M75.70,679.25 h3.2 M75.70,682.87 h3.2" stroke="#ff5fd0" stroke-width="1.2" fill="none"/>
<path d="M92.74,678.45 V682.07 M91.14,678.45 h3.2 M91.14,682.07 h3.2" stroke="#ff5fd0" stroke-width="1.2" fill="none"/>
<path d="M108.18,676.99 V680.61 M106.58,676.99 h3.2 M106.58,680.61 h3.2" stroke="#ff5fd0" stroke-width="1.2" fill="none"/>
<path d="M123.62,676.46 V680.08 M122.02,676.46 h3.2 M122.02,680.08 h3.2" stroke="#ff5fd0" stroke-width="1.2" fill="none"/>
<path d="M139.06,673.79 V677.41 M137.46,673.79 h3.2 M137.46,677.41 h3.2" stroke="#ff5fd0" stroke-width="1.2" fill="none"/>
<path d="M154.50,670.56 V675.99 M152.90,670.56 h3.2 M152.90,675.99 h3.2" stroke="#ff5fd0" stroke-width="1.2" fill="none"/>
<path d="M169.94,666.57 V672.27 M168.34,666.57 h3.2 M168.34,672.27 h3.2" stroke="#ff5fd0" stroke-width="1.2" fill="none"/>
<path d="M185.38,662.45 V668.43 M183.78,662.45 h3.2 M183.78,668.43 h3.2" stroke="#ff5fd0" stroke-width="1.2" fill="none"/>
<path d="M200.82,657.05 V663.30 M199.22,657.05 h3.2 M199.22,663.30 h3.2" stroke="#ff5fd0" stroke-width="1.2" fill="none"/>
<path d="M216.26,653.40 V659.92 M214.66,653.40 h3.2 M214.66,659.92 h3.2" stroke="#ff5fd0" stroke-width="1.2" fill="none"/>
<path d="M231.70,650.46 V657.25 M230.10,650.46 h3.2 M230.10,657.25 h3.2" stroke="#ff5fd0" stroke-width="1.2" fill="none"/>
<path d="M247.14,645.35 V652.41 M245.54,645.35 h3.2 M245.54,652.41 h3.2" stroke="#ff5fd0" stroke-width="1.2" fill="none"/>
<path d="M262.58,639.33 V646.66 M260.98,639.33 h3.2 M260.98,646.66 h3.2" stroke="#ff5fd0" stroke-width="1.2" fill="none"/>
<path d="M278.02,637.39 V644.99 M276.42,637.39 h3.2 M276.42,644.99 h3.2" stroke="#ff5fd0" stroke-width="1.2" fill="none"/>
<path d="M293.46,633.67 V641.55 M291.86,633.67 h3.2 M291.86,641.55 h3.2" stroke="#ff5fd0" stroke-width="1.2" fill="none"/>
<path d="M308.90,626.40 V634.54 M307.30,626.40 h3.2 M307.30,634.54 h3.2" stroke="#ff5fd0" stroke-width="1.2" fill="none"/>
<path d="M324.34,620.16 V628.58 M322.74,620.16 h3.2 M322.74,628.58 h3.2" stroke="#ff5fd0" stroke-width="1.2" fill="none"/>
<path d="M339.78,615.62 V624.31 M338.18,615.62 h3.2 M338.18,624.31 h3.2" stroke="#ff5fd0" stroke-width="1.2" fill="none"/>
<rect x="76.15" y="679.91" width="2.3" height="2.3" fill="#ff5fd0"/>
<rect x="91.59" y="679.11" width="2.3" height="2.3" fill="#ff5fd0"/>
<rect x="107.03" y="677.65" width="2.3" height="2.3" fill="#ff5fd0"/>
<rect x="122.47" y="677.12" width="2.3" height="2.3" fill="#ff5fd0"/>
<rect x="137.91" y="674.45" width="2.3" height="2.3" fill="#ff5fd0"/>
<rect x="153.35" y="672.13" width="2.3" height="2.3" fill="#ff5fd0"/>
<rect x="168.79" y="668.27" width="2.3" height="2.3" fill="#ff5fd0"/>
<rect x="184.23" y="664.29" width="2.3" height="2.3" fill="#ff5fd0"/>
<rect x="199.67" y="659.02" width="2.3" height="2.3" fill="#ff5fd0"/>
<rect x="215.11" y="655.51" width="2.3" height="2.3" fill="#ff5fd0"/>
<rect x="230.55" y="652.71" width="2.3" height="2.3" fill="#ff5fd0"/>
<rect x="245.99" y="647.73" width="2.3" height="2.3" fill="#ff5fd0"/>
<rect x="261.43" y="641.85" width="2.3" height="2.3" fill="#ff5fd0"/>
<rect x="276.87" y="640.04" width="2.3" height="2.3" fill="#ff5fd0"/>
<rect x="292.31" y="636.46" width="2.3" height="2.3" fill="#ff5fd0"/>
<rect x="307.75" y="629.32" width="2.3" height="2.3" fill="#ff5fd0"/>
<rect x="323.19" y="623.22" width="2.3" height="2.3" fill="#ff5fd0"/>
<rect x="338.63" y="618.81" width="2.3" height="2.3" fill="#ff5fd0"/>
<path d="M77.30,682.63 L92.74,679.92 L108.18,678.11 L123.62,676.30 L139.06,675.39 L154.50,674.49 L169.94,673.59 L185.38,671.77 L200.82,669.97 L216.26,668.15 L231.70,668.15 L247.14,668.15 L262.58,666.35 L278.02,665.44 L293.46,665.44 L308.90,663.63 L324.34,663.63 L339.78,662.27" fill="none" stroke="#000" stroke-width="1.6" stroke-linejoin="round"/>
<path d="M77.30,679.92 V685.35 M75.70,679.92 h3.2 M75.70,685.35 h3.2" stroke="#000" stroke-width="1.2" fill="none"/>
<path d="M92.74,677.21 V682.63 M91.14,677.21 h3.2 M91.14,682.63 h3.2" stroke="#000" stroke-width="1.2" fill="none"/>
<path d="M108.18,675.39 V680.83 M106.58,675.39 h3.2 M106.58,680.83 h3.2" stroke="#000" stroke-width="1.2" fill="none"/>
<path d="M123.62,673.59 V679.01 M122.02,673.59 h3.2 M122.02,679.01 h3.2" stroke="#000" stroke-width="1.2" fill="none"/>
<path d="M139.06,672.68 V678.11 M137.46,672.68 h3.2 M137.46,678.11 h3.2" stroke="#000" stroke-width="1.2" fill="none"/>
<path d="M154.50,670.87 V678.11 M152.90,670.87 h3.2 M152.90,678.11 h3.2" stroke="#000" stroke-width="1.2" fill="none"/>
<path d="M169.94,669.97 V677.21 M168.34,669.97 h3.2 M168.34,677.21 h3.2" stroke="#000" stroke-width="1.2" fill="none"/>
<path d="M185.38,668.15 V675.39 M183.78,668.15 h3.2 M183.78,675.39 h3.2" stroke="#000" stroke-width="1.2" fill="none"/>
<path d="M200.82,666.35 V673.59 M199.22,666.35 h3.2 M199.22,673.59 h3.2" stroke="#000" stroke-width="1.2" fill="none"/>
<path d="M216.26,664.53 V671.77 M214.66,664.53 h3.2 M214.66,671.77 h3.2" stroke="#000" stroke-width="1.2" fill="none"/>
<path d="M231.70,664.53 V671.77 M230.10,664.53 h3.2 M230.10,671.77 h3.2" stroke="#000" stroke-width="1.2" fill="none"/>
<path d="M247.14,664.53 V671.77 M245.54,664.53 h3.2 M245.54,671.77 h3.2" stroke="#000" stroke-width="1.2" fill="none"/>
<path d="M262.58,662.73 V669.97 M260.98,662.73 h3.2 M260.98,669.97 h3.2" stroke="#000" stroke-width="1.2" fill="none"/>
<path d="M278.02,661.82 V669.06 M276.42,661.82 h3.2 M276.42,669.06 h3.2" stroke="#000" stroke-width="1.2" fill="none"/>
<path d="M293.46,661.82 V669.06 M291.86,661.82 h3.2 M291.86,669.06 h3.2" stroke="#000" stroke-width="1.2" fill="none"/>
<path d="M308.90,660.01 V667.25 M307.30,660.01 h3.2 M307.30,667.25 h3.2" stroke="#000" stroke-width="1.2" fill="none"/>
<path d="M324.34,660.01 V667.25 M322.74,660.01 h3.2 M322.74,667.25 h3.2" stroke="#000" stroke-width="1.2" fill="none"/>
<path d="M339.78,658.65 V665.89 M338.18,658.65 h3.2 M338.18,665.89 h3.2" stroke="#000" stroke-width="1.2" fill="none"/>
<rect x="76.15" y="681.49" width="2.3" height="2.3" fill="#000"/>
<rect x="91.59" y="678.77" width="2.3" height="2.3" fill="#000"/>
<rect x="107.03" y="676.96" width="2.3" height="2.3" fill="#000"/>
<rect x="122.47" y="675.15" width="2.3" height="2.3" fill="#000"/>
<rect x="137.91" y="674.25" width="2.3" height="2.3" fill="#000"/>
<rect x="153.35" y="673.34" width="2.3" height="2.3" fill="#000"/>
<rect x="168.79" y="672.44" width="2.3" height="2.3" fill="#000"/>
<rect x="184.23" y="670.62" width="2.3" height="2.3" fill="#000"/>
<rect x="199.67" y="668.82" width="2.3" height="2.3" fill="#000"/>
<rect x="215.11" y="667.00" width="2.3" height="2.3" fill="#000"/>
<rect x="230.55" y="667.00" width="2.3" height="2.3" fill="#000"/>
<rect x="245.99" y="667.00" width="2.3" height="2.3" fill="#000"/>
<rect x="261.43" y="665.20" width="2.3" height="2.3" fill="#000"/>
<rect x="276.87" y="664.29" width="2.3" height="2.3" fill="#000"/>
<rect x="292.31" y="664.29" width="2.3" height="2.3" fill="#000"/>
<rect x="307.75" y="662.48" width="2.3" height="2.3" fill="#000"/>
<rect x="323.19" y="662.48" width="2.3" height="2.3" fill="#000"/>
<rect x="338.63" y="661.12" width="2.3" height="2.3" fill="#000"/>
<path d="M338.5,603.2 H348 V631.6 H338.5 M338.5,650.8 H348 V675 H338.5 M348,616 H354.2 V661.8 H348" fill="none" stroke="#000" stroke-width="1.4"/>
<text x="340.5" y="646" font-size="15.4" text-anchor="start" >****</text>
<text transform="translate(577,236.8) scale(1.13,1)" font-size="19.91" text-anchor="start" fill="#000" >E</text>
<text transform="translate(597,286.7) scale(1.13,1) rotate(-90)" font-size="13.75" text-anchor="middle">PBS</text>
<text transform="translate(597,406) scale(1.13,1) rotate(-90)" font-size="13.75" text-anchor="middle">NMDA 0.5 nmole</text>
<text transform="translate(597,519.5) scale(1.13,1) rotate(-90)" font-size="13.75" text-anchor="middle">NMDA 5 nmoles</text>
<filter id="mb" x="600" y="236" width="120" height="340" filterUnits="userSpaceOnUse"><feTurbulence type="fractalNoise" baseFrequency="0.09" numOctaves="2" seed="8" result="n"/><feDisplacementMap in="SourceGraphic" in2="n" scale="4.5" xChannelSelector="R" yChannelSelector="G" result="d"/><feGaussianBlur in="d" stdDeviation="0.5"/></filter>
<g clip-path="url(#c1)">
<filter id="tx1" x="603" y="238" width="114" height="109" filterUnits="userSpaceOnUse" color-interpolation-filters="sRGB"><feTurbulence type="fractalNoise" baseFrequency="0.16" numOctaves="3" seed="4"/><feColorMatrix type="matrix" values="1.7 0 0 0 -0.53  1.7 0 0 0 -0.53  1.7 0 0 0 -0.53  0 0 0 0 1"/></filter>
<rect x="603" y="238" width="114" height="109" fill="#555" filter="url(#tx1)"/>
<g filter="url(#mb)">
<circle cx="673.8" cy="318.6" r="5.1" fill="#999" fill-opacity="0.32" stroke="#eee" stroke-opacity="0.43" stroke-width="1.4"/>
<circle cx="707.3" cy="243.1" r="4.3" fill="#999" fill-opacity="0.29" stroke="#eee" stroke-opacity="0.43" stroke-width="1.2"/>
<circle cx="704.9" cy="252.0" r="4.3" fill="#999" fill-opacity="0.26" stroke="#eee" stroke-opacity="0.22" stroke-width="1.2"/>
<circle cx="668.3" cy="241.4" r="3.7" fill="#999" fill-opacity="0.37" stroke="#eee" stroke-opacity="0.23" stroke-width="1.0"/>
<circle cx="689.8" cy="256.9" r="5.1" fill="#999" fill-opacity="0.29" stroke="#eee" stroke-opacity="0.19" stroke-width="1.4"/>
<circle cx="618.2" cy="240.2" r="5.3" fill="#999" fill-opacity="0.16" stroke="#eee" stroke-opacity="0.21" stroke-width="1.5"/>
<circle cx="714.0" cy="332.5" r="3.9" fill="#999" fill-opacity="0.26" stroke="#eee" stroke-opacity="0.44" stroke-width="1.1"/>
<circle cx="679.9" cy="261.7" r="5.5" fill="#999" fill-opacity="0.39" stroke="#eee" stroke-opacity="0.36" stroke-width="1.5"/>
<circle cx="704.1" cy="271.7" r="4.1" fill="#999" fill-opacity="0.14" stroke="#eee" stroke-opacity="0.20" stroke-width="1.1"/>
<circle cx="611.3" cy="271.9" r="4.6" fill="#999" fill-opacity="0.30" stroke="#eee" stroke-opacity="0.15" stroke-width="1.3"/>
<circle cx="641.8" cy="272.9" r="5.2" fill="#999" fill-opacity="0.19" stroke="#eee" stroke-opacity="0.29" stroke-width="1.4"/>
<circle cx="657.9" cy="314.7" r="3.3" fill="#999" fill-opacity="0.11" stroke="#eee" stroke-opacity="0.44" stroke-width="0.9"/>
<circle cx="688.0" cy="329.6" r="3.2" fill="#999" fill-opacity="0.21" stroke="#eee" stroke-opacity="0.39" stroke-width="0.9"/>
<circle cx="668.8" cy="241.0" r="3.3" fill="#999" fill-opacity="0.39" stroke="#eee" stroke-opacity="0.20" stroke-width="0.9"/>
<circle cx="626.0" cy="320.1" r="5.4" fill="#999" fill-opacity="0.20" stroke="#eee" stroke-opacity="0.43" stroke-width="1.5"/>
<circle cx="643.7" cy="295.6" r="5.1" fill="#999" fill-opacity="0.32" stroke="#eee" stroke-opacity="0.18" stroke-width="1.4"/>
<circle cx="693.3" cy="331.1" r="3.3" fill="#999" fill-opacity="0.13" stroke="#eee" stroke-opacity="0.43" stroke-width="0.9"/>
<circle cx="642.2" cy="304.7" r="5.4" fill="#999" fill-opacity="0.38" stroke="#eee" stroke-opacity="0.25" stroke-width="1.5"/>
<circle cx="665.1" cy="273.1" r="4.0" fill="#999" fill-opacity="0.12" stroke="#eee" stroke-opacity="0.20" stroke-width="1.1"/>
<circle cx="620.7" cy="313.1" r="5.6" fill="#999" fill-opacity="0.11" stroke="#eee" stroke-opacity="0.20" stroke-width="1.6"/>
<circle cx="714.5" cy="296.6" r="4.2" fill="#999" fill-opacity="0.28" stroke="#eee" stroke-opacity="0.22" stroke-width="1.2"/>
<circle cx="696.5" cy="288.3" r="4.2" fill="#999" fill-opacity="0.37" stroke="#eee" stroke-opacity="0.17" stroke-width="1.2"/>
<circle cx="607.7" cy="292.3" r="5.2" fill="#999" fill-opacity="0.32" stroke="#eee" stroke-opacity="0.19" stroke-width="1.5"/>
<circle cx="710.4" cy="306.8" r="5.1" fill="#999" fill-opacity="0.23" stroke="#eee" stroke-opacity="0.18" stroke-width="1.4"/>
<circle cx="620.7" cy="329.5" r="3.9" fill="#999" fill-opacity="0.40" stroke="#eee" stroke-opacity="0.29" stroke-width="1.1"/>
<circle cx="699.5" cy="343.5" r="4.3" fill="#999" fill-opacity="0.32" stroke="#eee" stroke-opacity="0.30" stroke-width="1.2"/>
<circle cx="657.7" cy="270.8" r="4.2" fill="#999" fill-opacity="0.21" stroke="#eee" stroke-opacity="0.19" stroke-width="1.2"/>
<circle cx="714.7" cy="341.7" r="4.7" fill="#999" fill-opacity="0.20" stroke="#eee" stroke-opacity="0.30" stroke-width="1.3"/>
<circle cx="614.0" cy="268.9" r="5.1" fill="#999" fill-opacity="0.21" stroke="#eee" stroke-opacity="0.41" stroke-width="1.4"/>
<circle cx="692.0" cy="322.1" r="4.9" fill="#999" fill-opacity="0.33" stroke="#eee" stroke-opacity="0.35" stroke-width="1.4"/>
<circle cx="644.7" cy="314.7" r="3.9" fill="#999" fill-opacity="0.33" stroke="#eee" stroke-opacity="0.30" stroke-width="1.1"/>
<circle cx="681.4" cy="271.1" r="5.5" fill="#999" fill-opacity="0.27" stroke="#eee" stroke-opacity="0.34" stroke-width="1.5"/>
<circle cx="605.3" cy="298.0" r="3.8" fill="#999" fill-opacity="0.24" stroke="#eee" stroke-opacity="0.35" stroke-width="1.1"/>
<circle cx="695.5" cy="308.6" r="5.1" fill="#999" fill-opacity="0.29" stroke="#eee" stroke-opacity="0.25" stroke-width="1.4"/>
<circle cx="686.6" cy="327.8" r="4.0" fill="#999" fill-opacity="0.36" stroke="#eee" stroke-opacity="0.40" stroke-width="1.1"/>
<circle cx="681.1" cy="343.5" r="5.5" fill="#999" fill-opacity="0.26" stroke="#eee" stroke-opacity="0.31" stroke-width="1.5"/>
<circle cx="622.6" cy="328.7" r="5.4" fill="#999" fill-opacity="0.31" stroke="#eee" stroke-opacity="0.29" stroke-width="1.5"/>
<circle cx="684.6" cy="317.4" r="3.6" fill="#999" fill-opacity="0.27" stroke="#eee" stroke-opacity="0.38" stroke-width="1.0"/>
<circle cx="678.5" cy="284.6" r="4.7" fill="#999" fill-opacity="0.29" stroke="#eee" stroke-opacity="0.38" stroke-width="1.3"/>
<circle cx="684.7" cy="242.9" r="3.6" fill="#999" fill-opacity="0.30" stroke="#eee" stroke-opacity="0.28" stroke-width="1.0"/>
<circle cx="628.5" cy="312.7" r="4.7" fill="#999" fill-opacity="0.24" stroke="#eee" stroke-opacity="0.16" stroke-width="1.3"/>
<circle cx="629.3" cy="245.7" r="3.5" fill="#999" fill-opacity="0.15" stroke="#eee" stroke-opacity="0.25" stroke-width="1.0"/>
<circle cx="625.7" cy="243.8" r="4.3" fill="#999" fill-opacity="0.28" stroke="#eee" stroke-opacity="0.26" stroke-width="1.2"/>
<circle cx="670.1" cy="265.2" r="5.4" fill="#999" fill-opacity="0.22" stroke="#eee" stroke-opacity="0.15" stroke-width="1.5"/>
<circle cx="635.2" cy="283.5" r="3.5" fill="#999" fill-opacity="0.21" stroke="#eee" stroke-opacity="0.40" stroke-width="1.0"/>
<circle cx="608.0" cy="305.0" r="3.4" fill="#999" fill-opacity="0.20" stroke="#eee" stroke-opacity="0.31" stroke-width="1.0"/>
<circle cx="669.1" cy="341.6" r="5.2" fill="#999" fill-opacity="0.34" stroke="#eee" stroke-opacity="0.28" stroke-width="1.4"/>
<circle cx="675.9" cy="279.2" r="3.5" fill="#999" fill-opacity="0.27" stroke="#eee" stroke-opacity="0.33" stroke-width="1.0"/>
<circle cx="711.2" cy="342.6" r="4.7" fill="#999" fill-opacity="0.37" stroke="#eee" stroke-opacity="0.26" stroke-width="1.3"/>
<circle cx="604.1" cy="251.4" r="4.6" fill="#999" fill-opacity="0.14" stroke="#eee" stroke-opacity="0.33" stroke-width="1.3"/>
<circle cx="674.5" cy="334.5" r="4.1" fill="#999" fill-opacity="0.17" stroke="#eee" stroke-opacity="0.28" stroke-width="1.1"/>
<circle cx="636.6" cy="343.1" r="4.1" fill="#999" fill-opacity="0.37" stroke="#eee" stroke-opacity="0.44" stroke-width="1.2"/>
<circle cx="670.7" cy="267.5" r="5.6" fill="#999" fill-opacity="0.22" stroke="#eee" stroke-opacity="0.30" stroke-width="1.6"/>
<circle cx="639.7" cy="344.3" r="4.4" fill="#999" fill-opacity="0.24" stroke="#eee" stroke-opacity="0.24" stroke-width="1.2"/>
<circle cx="617.7" cy="305.9" r="4.3" fill="#999" fill-opacity="0.33" stroke="#eee" stroke-opacity="0.24" stroke-width="1.2"/>
<circle cx="696.6" cy="241.4" r="4.5" fill="#999" fill-opacity="0.38" stroke="#eee" stroke-opacity="0.23" stroke-width="1.3"/>
<circle cx="691.6" cy="266.0" r="3.8" fill="#999" fill-opacity="0.40" stroke="#eee" stroke-opacity="0.20" stroke-width="1.1"/>
<circle cx="636.8" cy="304.5" r="4.3" fill="#999" fill-opacity="0.28" stroke="#eee" stroke-opacity="0.34" stroke-width="1.2"/>
<circle cx="687.3" cy="252.5" r="5.0" fill="#999" fill-opacity="0.26" stroke="#eee" stroke-opacity="0.24" stroke-width="1.4"/>
<circle cx="641.6" cy="271.5" r="4.5" fill="#999" fill-opacity="0.21" stroke="#eee" stroke-opacity="0.29" stroke-width="1.3"/>
<circle cx="687.4" cy="302.6" r="3.3" fill="#999" fill-opacity="0.24" stroke="#eee" stroke-opacity="0.23" stroke-width="0.9"/>
<circle cx="706.7" cy="334.1" r="4.5" fill="#999" fill-opacity="0.33" stroke="#eee" stroke-opacity="0.15" stroke-width="1.3"/>
<circle cx="651.9" cy="301.0" r="4.9" fill="#999" fill-opacity="0.24" stroke="#eee" stroke-opacity="0.34" stroke-width="1.4"/>
<circle cx="706.1" cy="280.9" r="4.1" fill="#999" fill-opacity="0.16" stroke="#eee" stroke-opacity="0.41" stroke-width="1.2"/>
<circle cx="637.2" cy="328.0" r="3.4" fill="#999" fill-opacity="0.31" stroke="#eee" stroke-opacity="0.40" stroke-width="0.9"/>
<circle cx="652.5" cy="270.4" r="5.1" fill="#999" fill-opacity="0.14" stroke="#eee" stroke-opacity="0.42" stroke-width="1.4"/>
<circle cx="657.6" cy="298.2" r="4.4" fill="#999" fill-opacity="0.15" stroke="#eee" stroke-opacity="0.25" stroke-width="1.2"/>
<circle cx="669.6" cy="326.1" r="3.4" fill="#999" fill-opacity="0.35" stroke="#eee" stroke-opacity="0.22" stroke-width="0.9"/>
<circle cx="692.7" cy="310.3" r="3.3" fill="#999" fill-opacity="0.39" stroke="#eee" stroke-opacity="0.37" stroke-width="0.9"/>
<circle cx="715.8" cy="314.3" r="3.3" fill="#999" fill-opacity="0.17" stroke="#eee" stroke-opacity="0.40" stroke-width="0.9"/>
<circle cx="676.3" cy="340.9" r="4.9" fill="#999" fill-opacity="0.19" stroke="#eee" stroke-opacity="0.19" stroke-width="1.4"/>
<circle cx="706.8" cy="255.9" r="4.7" fill="#999" fill-opacity="0.15" stroke="#eee" stroke-opacity="0.27" stroke-width="1.3"/>
<circle cx="673.7" cy="244.6" r="3.5" fill="#999" fill-opacity="0.12" stroke="#eee" stroke-opacity="0.26" stroke-width="1.0"/>
<circle cx="610.4" cy="301.0" r="5.0" fill="#999" fill-opacity="0.14" stroke="#eee" stroke-opacity="0.41" stroke-width="1.4"/>
<circle cx="652.3" cy="273.3" r="4.6" fill="#999" fill-opacity="0.38" stroke="#eee" stroke-opacity="0.30" stroke-width="1.3"/>
<circle cx="645.9" cy="245.9" r="4.9" fill="#999" fill-opacity="0.29" stroke="#eee" stroke-opacity="0.20" stroke-width="1.4"/>
<circle cx="660.7" cy="336.5" r="4.5" fill="#999" fill-opacity="0.18" stroke="#eee" stroke-opacity="0.34" stroke-width="1.3"/>
<circle cx="665.8" cy="266.9" r="5.0" fill="#999" fill-opacity="0.14" stroke="#eee" stroke-opacity="0.31" stroke-width="1.4"/>
<circle cx="630.3" cy="279.3" r="5.0" fill="#999" fill-opacity="0.31" stroke="#eee" stroke-opacity="0.20" stroke-width="1.4"/>
<circle cx="677.4" cy="249.0" r="4.8" fill="#999" fill-opacity="0.14" stroke="#eee" stroke-opacity="0.18" stroke-width="1.3"/>
<circle cx="670.5" cy="265.3" r="5.3" fill="#999" fill-opacity="0.20" stroke="#eee" stroke-opacity="0.29" stroke-width="1.5"/>
<circle cx="693.2" cy="243.1" r="4.9" fill="#999" fill-opacity="0.15" stroke="#eee" stroke-opacity="0.17" stroke-width="1.4"/>
<circle cx="710.6" cy="312.2" r="3.7" fill="#999" fill-opacity="0.39" stroke="#eee" stroke-opacity="0.18" stroke-width="1.0"/>
<circle cx="678.5" cy="327.0" r="3.5" fill="#999" fill-opacity="0.21" stroke="#eee" stroke-opacity="0.34" stroke-width="1.0"/>
<circle cx="630.3" cy="275.3" r="4.7" fill="#999" fill-opacity="0.22" stroke="#eee" stroke-opacity="0.25" stroke-width="1.3"/>
<circle cx="619.3" cy="328.1" r="4.8" fill="#999" fill-opacity="0.23" stroke="#eee" stroke-opacity="0.39" stroke-width="1.3"/>
<circle cx="699.4" cy="294.9" r="4.6" fill="#999" fill-opacity="0.32" stroke="#eee" stroke-opacity="0.32" stroke-width="1.3"/>
<circle cx="648.3" cy="250.3" r="3.3" fill="#999" fill-opacity="0.11" stroke="#eee" stroke-opacity="0.21" stroke-width="0.9"/>
<circle cx="703.6" cy="291.0" r="5.0" fill="#999" fill-opacity="0.24" stroke="#eee" stroke-opacity="0.15" stroke-width="1.4"/>
<circle cx="703.7" cy="305.7" r="4.2" fill="#999" fill-opacity="0.13" stroke="#eee" stroke-opacity="0.29" stroke-width="1.2"/>
<circle cx="621.3" cy="256.9" r="4.1" fill="#999" fill-opacity="0.36" stroke="#eee" stroke-opacity="0.27" stroke-width="1.1"/>
<circle cx="621.0" cy="266.9" r="3.9" fill="#999" fill-opacity="0.19" stroke="#eee" stroke-opacity="0.20" stroke-width="1.1"/>
<circle cx="630.3" cy="291.1" r="3.3" fill="#999" fill-opacity="0.21" stroke="#eee" stroke-opacity="0.43" stroke-width="0.9"/>
<circle cx="709.0" cy="312.9" r="4.8" fill="#999" fill-opacity="0.38" stroke="#eee" stroke-opacity="0.29" stroke-width="1.3"/>
<circle cx="617.2" cy="310.9" r="3.9" fill="#999" fill-opacity="0.32" stroke="#eee" stroke-opacity="0.35" stroke-width="1.1"/>
<circle cx="622.3" cy="261.3" r="3.3" fill="#999" fill-opacity="0.12" stroke="#eee" stroke-opacity="0.22" stroke-width="0.9"/>
<circle cx="648.9" cy="343.2" r="4.1" fill="#999" fill-opacity="0.24" stroke="#eee" stroke-opacity="0.24" stroke-width="1.1"/>
<circle cx="635.7" cy="317.6" r="4.9" fill="#999" fill-opacity="0.17" stroke="#eee" stroke-opacity="0.20" stroke-width="1.4"/>
<circle cx="679.3" cy="339.7" r="4.8" fill="#999" fill-opacity="0.39" stroke="#eee" stroke-opacity="0.28" stroke-width="1.3"/>
<circle cx="604.7" cy="246.5" r="5.1" fill="#999" fill-opacity="0.11" stroke="#eee" stroke-opacity="0.27" stroke-width="1.4"/>
<circle cx="665.4" cy="344.9" r="4.4" fill="#999" fill-opacity="0.13" stroke="#eee" stroke-opacity="0.26" stroke-width="1.2"/>
<circle cx="612.0" cy="335.3" r="4.4" fill="#999" fill-opacity="0.12" stroke="#eee" stroke-opacity="0.43" stroke-width="1.2"/>
<circle cx="631.3" cy="245.3" r="4.2" fill="#999" fill-opacity="0.18" stroke="#eee" stroke-opacity="0.17" stroke-width="1.2"/>
<circle cx="649.6" cy="272.4" r="3.3" fill="#999" fill-opacity="0.39" stroke="#eee" stroke-opacity="0.16" stroke-width="0.9"/>
<circle cx="624.1" cy="293.9" r="4.2" fill="#999" fill-opacity="0.13" stroke="#eee" stroke-opacity="0.31" stroke-width="1.2"/>
<circle cx="639.2" cy="251.4" r="4.5" fill="#999" fill-opacity="0.28" stroke="#eee" stroke-opacity="0.43" stroke-width="1.3"/>
<circle cx="700.0" cy="262.7" r="3.2" fill="#999" fill-opacity="0.25" stroke="#eee" stroke-opacity="0.31" stroke-width="0.9"/>
<circle cx="668.0" cy="279.9" r="4.7" fill="#999" fill-opacity="0.37" stroke="#eee" stroke-opacity="0.37" stroke-width="1.3"/>
<circle cx="638.5" cy="287.6" r="5.2" fill="#999" fill-opacity="0.13" stroke="#eee" stroke-opacity="0.22" stroke-width="1.5"/>
<circle cx="638.9" cy="249.3" r="5.1" fill="#999" fill-opacity="0.19" stroke="#eee" stroke-opacity="0.40" stroke-width="1.4"/>
<circle cx="701.0" cy="261.0" r="5.5" fill="#999" fill-opacity="0.80" stroke="#eee" stroke-opacity="0.90" stroke-width="1.5"/>
<circle cx="710.0" cy="250.0" r="4.5" fill="#999" fill-opacity="0.70" stroke="#eee" stroke-opacity="0.80" stroke-width="1.3"/>
<circle cx="634.0" cy="331.0" r="5.0" fill="#999" fill-opacity="0.70" stroke="#eee" stroke-opacity="0.80" stroke-width="1.4"/>
<path d="M616.0,239.0 Q642.0,254.0 654.5,259.5 Q667.0,265.0 679.5,268.5 Q692.0,272.0 717.0,274.0" fill="none" stroke="#fff" stroke-width="3.4" stroke-opacity="0.28" stroke-linecap="round"/>
<path d="M616.0,239.0 Q642.0,254.0 654.5,259.5 Q667.0,265.0 679.5,268.5 Q692.0,272.0 717.0,274.0" fill="none" stroke="#fff" stroke-width="1.8" stroke-opacity="1.0" stroke-linecap="round"/>
<path d="M622.0,259.0 Q650.0,266.0 662.5,271.0 Q675.0,276.0 717.0,287.0" fill="none" stroke="#fff" stroke-width="2.4" stroke-opacity="0.24" stroke-linecap="round"/>
<path d="M622.0,259.0 Q650.0,266.0 662.5,271.0 Q675.0,276.0 717.0,287.0" fill="none" stroke="#fff" stroke-width="0.8" stroke-opacity="0.85" stroke-linecap="round"/>
<path d="M603.0,269.5 Q625.0,273.0 637.5,277.0 Q650.0,281.0 662.5,285.2 Q675.0,289.5 687.5,292.8 Q700.0,296.0 717.0,300.0" fill="none" stroke="#fff" stroke-width="4.5" stroke-opacity="0.28" stroke-linecap="round"/>
<path d="M603.0,269.5 Q625.0,273.0 637.5,277.0 Q650.0,281.0 662.5,285.2 Q675.0,289.5 687.5,292.8 Q700.0,296.0 717.0,300.0" fill="none" stroke="#fff" stroke-width="2.9" stroke-opacity="1.0" stroke-linecap="round"/>
<path d="M640.0,279.0 Q665.0,292.0 677.5,297.5 Q690.0,303.0 717.0,309.0" fill="none" stroke="#fff" stroke-width="2.6" stroke-opacity="0.24" stroke-linecap="round"/>
<path d="M640.0,279.0 Q665.0,292.0 677.5,297.5 Q690.0,303.0 717.0,309.0" fill="none" stroke="#fff" stroke-width="1.0" stroke-opacity="0.85" stroke-linecap="round"/>
<path d="M603.0,296.5 Q625.0,301.0 636.5,304.5 Q648.0,308.0 661.5,310.5 Q675.0,313.0 687.5,317.5 Q700.0,322.0 717.0,329.0" fill="none" stroke="#fff" stroke-width="4.3" stroke-opacity="0.28" stroke-linecap="round"/>
<path d="M603.0,296.5 Q625.0,301.0 636.5,304.5 Q648.0,308.0 661.5,310.5 Q675.0,313.0 687.5,317.5 Q700.0,322.0 717.0,329.0" fill="none" stroke="#fff" stroke-width="2.7" stroke-opacity="1.0" stroke-linecap="round"/>
<path d="M655.0,290.0 Q668.0,300.0 679.0,298.0 Q690.0,296.0 717.0,300.0" fill="none" stroke="#fff" stroke-width="2.4" stroke-opacity="0.20" stroke-linecap="round"/>
<path d="M655.0,290.0 Q668.0,300.0 679.0,298.0 Q690.0,296.0 717.0,300.0" fill="none" stroke="#fff" stroke-width="0.8" stroke-opacity="0.7" stroke-linecap="round"/>
<path d="M603.0,337.0 Q640.0,331.0 658.5,328.0 Q677.0,325.0 688.5,322.0 Q700.0,319.0 717.0,314.5" fill="none" stroke="#fff" stroke-width="3.7" stroke-opacity="0.28" stroke-linecap="round"/>
<path d="M603.0,337.0 Q640.0,331.0 658.5,328.0 Q677.0,325.0 688.5,322.0 Q700.0,319.0 717.0,314.5" fill="none" stroke="#fff" stroke-width="2.1" stroke-opacity="1.0" stroke-linecap="round"/>
<path d="M603.0,333.5 Q625.0,337.0 635.0,339.0 Q645.0,341.0 658.0,345.0" fill="none" stroke="#fff" stroke-width="4.5" stroke-opacity="0.28" stroke-linecap="round"/>
<path d="M603.0,333.5 Q625.0,337.0 635.0,339.0 Q645.0,341.0 658.0,345.0" fill="none" stroke="#fff" stroke-width="2.9" stroke-opacity="1.0" stroke-linecap="round"/>
<path d="M603.0,312.0 Q618.0,309.0 635.0,309.0" fill="none" stroke="#fff" stroke-width="2.8" stroke-opacity="0.24" stroke-linecap="round"/>
<path d="M603.0,312.0 Q618.0,309.0 635.0,309.0" fill="none" stroke="#fff" stroke-width="1.2" stroke-opacity="0.85" stroke-linecap="round"/>
<path d="M675.0,323.0 Q700.0,330.0 717.0,329.0" fill="none" stroke="#fff" stroke-width="3.7" stroke-opacity="0.25" stroke-linecap="round"/>
<path d="M675.0,323.0 Q700.0,330.0 717.0,329.0" fill="none" stroke="#fff" stroke-width="2.1" stroke-opacity="0.9" stroke-linecap="round"/>
<path d="M615.0,318.0 Q630.0,330.0 640.0,338.0" fill="none" stroke="#fff" stroke-width="2.6" stroke-opacity="0.20" stroke-linecap="round"/>
<path d="M615.0,318.0 Q630.0,330.0 640.0,338.0" fill="none" stroke="#fff" stroke-width="1.0" stroke-opacity="0.7" stroke-linecap="round"/>
<path d="M660.0,325.0 Q680.0,335.0 700.0,345.0" fill="none" stroke="#fff" stroke-width="2.4" stroke-opacity="0.17" stroke-linecap="round"/>
<path d="M660.0,325.0 Q680.0,335.0 700.0,345.0" fill="none" stroke="#fff" stroke-width="0.8" stroke-opacity="0.6" stroke-linecap="round"/>
<path d="M603.0,249.0 Q620.0,256.0 640.0,262.0" fill="none" stroke="#fff" stroke-width="2.3" stroke-opacity="0.17" stroke-linecap="round"/>
<path d="M603.0,249.0 Q620.0,256.0 640.0,262.0" fill="none" stroke="#fff" stroke-width="0.7" stroke-opacity="0.6" stroke-linecap="round"/>
</g></g>
<rect x="603.3" y="238.8" width="113.4" height="107.5" fill="none" stroke="#222" stroke-width="1"/>
<g clip-path="url(#c2)">
<filter id="tx2" x="603" y="352" width="114" height="109" filterUnits="userSpaceOnUse" color-interpolation-filters="sRGB"><feTurbulence type="fractalNoise" baseFrequency="0.17" numOctaves="3" seed="12"/><feColorMatrix type="matrix" values="1.5 0 0 0 -0.62  1.5 0 0 0 -0.62  1.5 0 0 0 -0.62  0 0 0 0 1"/></filter>
<rect x="603" y="352" width="114" height="109" fill="#444" filter="url(#tx2)"/>
<g filter="url(#mb)">
<circle cx="655.9" cy="393.2" r="3.5" fill="#999" fill-opacity="0.10" stroke="#eee" stroke-opacity="0.32" stroke-width="1.0"/>
<circle cx="660.3" cy="448.3" r="3.4" fill="#999" fill-opacity="0.25" stroke="#eee" stroke-opacity="0.25" stroke-width="0.9"/>
<circle cx="608.6" cy="393.8" r="4.7" fill="#999" fill-opacity="0.28" stroke="#eee" stroke-opacity="0.22" stroke-width="1.3"/>
<circle cx="621.6" cy="379.0" r="3.4" fill="#999" fill-opacity="0.33" stroke="#eee" stroke-opacity="0.24" stroke-width="1.0"/>
<circle cx="670.1" cy="435.3" r="4.0" fill="#999" fill-opacity="0.13" stroke="#eee" stroke-opacity="0.29" stroke-width="1.1"/>
<circle cx="636.6" cy="424.8" r="4.8" fill="#999" fill-opacity="0.12" stroke="#eee" stroke-opacity="0.22" stroke-width="1.3"/>
<circle cx="633.9" cy="376.0" r="3.8" fill="#999" fill-opacity="0.15" stroke="#eee" stroke-opacity="0.31" stroke-width="1.1"/>
<circle cx="703.3" cy="446.3" r="3.3" fill="#999" fill-opacity="0.22" stroke="#eee" stroke-opacity="0.21" stroke-width="0.9"/>
<circle cx="606.6" cy="398.6" r="5.2" fill="#999" fill-opacity="0.25" stroke="#eee" stroke-opacity="0.15" stroke-width="1.5"/>
<circle cx="617.6" cy="414.8" r="5.2" fill="#999" fill-opacity="0.10" stroke="#eee" stroke-opacity="0.17" stroke-width="1.4"/>
<circle cx="613.4" cy="410.7" r="3.2" fill="#999" fill-opacity="0.22" stroke="#eee" stroke-opacity="0.14" stroke-width="0.9"/>
<circle cx="707.1" cy="398.1" r="4.1" fill="#999" fill-opacity="0.12" stroke="#eee" stroke-opacity="0.27" stroke-width="1.1"/>
<circle cx="668.9" cy="372.1" r="4.5" fill="#999" fill-opacity="0.11" stroke="#eee" stroke-opacity="0.34" stroke-width="1.3"/>
<circle cx="666.2" cy="417.7" r="3.5" fill="#999" fill-opacity="0.35" stroke="#eee" stroke-opacity="0.18" stroke-width="1.0"/>
<circle cx="715.8" cy="366.7" r="4.8" fill="#999" fill-opacity="0.16" stroke="#eee" stroke-opacity="0.34" stroke-width="1.3"/>
<circle cx="672.4" cy="358.5" r="4.0" fill="#999" fill-opacity="0.25" stroke="#eee" stroke-opacity="0.28" stroke-width="1.1"/>
<circle cx="690.8" cy="363.1" r="4.0" fill="#999" fill-opacity="0.25" stroke="#eee" stroke-opacity="0.32" stroke-width="1.1"/>
<circle cx="654.5" cy="396.2" r="5.4" fill="#999" fill-opacity="0.10" stroke="#eee" stroke-opacity="0.25" stroke-width="1.5"/>
<circle cx="693.5" cy="388.5" r="4.2" fill="#999" fill-opacity="0.21" stroke="#eee" stroke-opacity="0.17" stroke-width="1.2"/>
<circle cx="640.4" cy="363.3" r="4.6" fill="#999" fill-opacity="0.30" stroke="#eee" stroke-opacity="0.14" stroke-width="1.3"/>
<circle cx="606.8" cy="436.0" r="5.0" fill="#999" fill-opacity="0.28" stroke="#eee" stroke-opacity="0.23" stroke-width="1.4"/>
<circle cx="631.8" cy="431.4" r="4.1" fill="#999" fill-opacity="0.34" stroke="#eee" stroke-opacity="0.17" stroke-width="1.2"/>
<circle cx="648.9" cy="393.2" r="5.1" fill="#999" fill-opacity="0.27" stroke="#eee" stroke-opacity="0.20" stroke-width="1.4"/>
<circle cx="623.2" cy="442.5" r="3.8" fill="#999" fill-opacity="0.34" stroke="#eee" stroke-opacity="0.13" stroke-width="1.1"/>
<circle cx="623.3" cy="453.4" r="5.4" fill="#999" fill-opacity="0.10" stroke="#eee" stroke-opacity="0.26" stroke-width="1.5"/>
<circle cx="610.8" cy="375.9" r="4.1" fill="#999" fill-opacity="0.34" stroke="#eee" stroke-opacity="0.26" stroke-width="1.1"/>
<circle cx="643.7" cy="368.8" r="4.4" fill="#999" fill-opacity="0.12" stroke="#eee" stroke-opacity="0.15" stroke-width="1.2"/>
<circle cx="666.3" cy="427.1" r="3.3" fill="#999" fill-opacity="0.28" stroke="#eee" stroke-opacity="0.22" stroke-width="0.9"/>
<circle cx="689.6" cy="394.2" r="5.2" fill="#999" fill-opacity="0.28" stroke="#eee" stroke-opacity="0.16" stroke-width="1.4"/>
<circle cx="690.4" cy="446.4" r="4.3" fill="#999" fill-opacity="0.11" stroke="#eee" stroke-opacity="0.14" stroke-width="1.2"/>
<circle cx="663.2" cy="372.2" r="4.6" fill="#999" fill-opacity="0.30" stroke="#eee" stroke-opacity="0.14" stroke-width="1.3"/>
<circle cx="628.9" cy="355.4" r="3.6" fill="#999" fill-opacity="0.24" stroke="#eee" stroke-opacity="0.23" stroke-width="1.0"/>
<circle cx="647.5" cy="372.2" r="4.3" fill="#999" fill-opacity="0.23" stroke="#eee" stroke-opacity="0.34" stroke-width="1.2"/>
<circle cx="709.4" cy="357.0" r="5.4" fill="#999" fill-opacity="0.24" stroke="#eee" stroke-opacity="0.32" stroke-width="1.5"/>
<circle cx="662.6" cy="410.4" r="5.2" fill="#999" fill-opacity="0.26" stroke="#eee" stroke-opacity="0.14" stroke-width="1.5"/>
<circle cx="664.7" cy="385.5" r="4.8" fill="#999" fill-opacity="0.13" stroke="#eee" stroke-opacity="0.29" stroke-width="1.3"/>
<circle cx="682.3" cy="401.6" r="4.3" fill="#999" fill-opacity="0.11" stroke="#eee" stroke-opacity="0.27" stroke-width="1.2"/>
<circle cx="671.5" cy="393.2" r="5.1" fill="#999" fill-opacity="0.31" stroke="#eee" stroke-opacity="0.17" stroke-width="1.4"/>
<circle cx="685.7" cy="419.6" r="5.1" fill="#999" fill-opacity="0.25" stroke="#eee" stroke-opacity="0.13" stroke-width="1.4"/>
<circle cx="672.7" cy="425.2" r="4.1" fill="#999" fill-opacity="0.15" stroke="#eee" stroke-opacity="0.14" stroke-width="1.1"/>
<circle cx="672.1" cy="373.0" r="3.3" fill="#999" fill-opacity="0.22" stroke="#eee" stroke-opacity="0.20" stroke-width="0.9"/>
<circle cx="664.0" cy="356.7" r="4.9" fill="#999" fill-opacity="0.30" stroke="#eee" stroke-opacity="0.20" stroke-width="1.4"/>
<circle cx="605.0" cy="454.2" r="4.5" fill="#999" fill-opacity="0.35" stroke="#eee" stroke-opacity="0.34" stroke-width="1.3"/>
<circle cx="697.3" cy="365.2" r="4.0" fill="#999" fill-opacity="0.29" stroke="#eee" stroke-opacity="0.17" stroke-width="1.1"/>
<circle cx="625.5" cy="377.2" r="3.4" fill="#999" fill-opacity="0.33" stroke="#eee" stroke-opacity="0.15" stroke-width="1.0"/>
<circle cx="713.3" cy="393.1" r="4.8" fill="#999" fill-opacity="0.23" stroke="#eee" stroke-opacity="0.23" stroke-width="1.4"/>
<circle cx="645.4" cy="420.6" r="3.7" fill="#999" fill-opacity="0.23" stroke="#eee" stroke-opacity="0.18" stroke-width="1.0"/>
<circle cx="626.1" cy="400.1" r="5.3" fill="#999" fill-opacity="0.13" stroke="#eee" stroke-opacity="0.13" stroke-width="1.5"/>
<circle cx="693.6" cy="360.1" r="3.8" fill="#999" fill-opacity="0.25" stroke="#eee" stroke-opacity="0.32" stroke-width="1.1"/>
<circle cx="628.7" cy="360.2" r="3.8" fill="#999" fill-opacity="0.30" stroke="#eee" stroke-opacity="0.19" stroke-width="1.1"/>
<circle cx="713.3" cy="436.6" r="5.2" fill="#999" fill-opacity="0.32" stroke="#eee" stroke-opacity="0.33" stroke-width="1.5"/>
<circle cx="707.0" cy="455.6" r="3.4" fill="#999" fill-opacity="0.16" stroke="#eee" stroke-opacity="0.19" stroke-width="1.0"/>
<circle cx="671.7" cy="405.6" r="4.0" fill="#999" fill-opacity="0.20" stroke="#eee" stroke-opacity="0.31" stroke-width="1.1"/>
<circle cx="627.4" cy="383.0" r="4.2" fill="#999" fill-opacity="0.24" stroke="#eee" stroke-opacity="0.26" stroke-width="1.2"/>
<circle cx="653.3" cy="373.6" r="4.1" fill="#999" fill-opacity="0.14" stroke="#eee" stroke-opacity="0.19" stroke-width="1.1"/>
<circle cx="633.0" cy="374.4" r="6.3" fill="url(#cg)" fill-opacity="0.8"/>
<circle cx="679.5" cy="379.6" r="7.4" fill="url(#cg)" fill-opacity="0.8"/>
<circle cx="618.4" cy="415.8" r="8.1" fill="url(#cg)" fill-opacity="0.8"/>
<circle cx="652.8" cy="438.1" r="5.6" fill="url(#cg)" fill-opacity="0.8"/>
<circle cx="689.9" cy="441.6" r="8.1" fill="url(#cg)" fill-opacity="0.8"/>
<circle cx="664.9" cy="454.5" r="6.3" fill="url(#cg)" fill-opacity="0.8"/>
<circle cx="634.8" cy="359.8" r="4.9" fill="url(#cg)" fill-opacity="0.8"/>
<circle cx="647.7" cy="418.3" r="6.3" fill="url(#cg)" fill-opacity="0.8"/>
<circle cx="630.4" cy="420.1" r="5.4" fill="url(#cg)" fill-opacity="0.8"/>
<path d="M603,352 L633.0,352 L603,369.3 Z" fill="#fff" fill-opacity="0.9"/>
<path d="M603.8,366.7 Q647.7,363.2 666.6,366.7 Q685.6,370.1 716.6,375.3" fill="none" stroke="#fff" stroke-width="2.6" stroke-opacity="0.28" stroke-linecap="round"/>
<path d="M603.8,366.7 Q647.7,363.2 666.6,366.7 Q685.6,370.1 716.6,375.3" fill="none" stroke="#fff" stroke-width="1.0" stroke-opacity="1.0" stroke-linecap="round"/>
<path d="M621.8,368.4 Q647.7,368.4 673.5,371.8" fill="none" stroke="#fff" stroke-width="2.3" stroke-opacity="0.22" stroke-linecap="round"/>
<path d="M621.8,368.4 Q647.7,368.4 673.5,371.8" fill="none" stroke="#fff" stroke-width="0.7" stroke-opacity="0.8" stroke-linecap="round"/>
<path d="M603.8,405.4 Q647.7,385.3 664.9,376.8 Q682.1,368.4 716.6,354.3" fill="none" stroke="#fff" stroke-width="6.4" stroke-opacity="0.28" stroke-linecap="round"/>
<path d="M603.8,405.4 Q647.7,385.3 664.9,376.8 Q682.1,368.4 716.6,354.3" fill="none" stroke="#fff" stroke-width="4.8" stroke-opacity="1.0" stroke-linecap="round"/>
<path d="M603.8,397.7 Q630.4,389.1 647.7,383.0" fill="none" stroke="#fff" stroke-width="3.2" stroke-opacity="0.25" stroke-linecap="round"/>
<path d="M603.8,397.7 Q630.4,389.1 647.7,383.0" fill="none" stroke="#fff" stroke-width="1.6" stroke-opacity="0.9" stroke-linecap="round"/>
<path d="M613.2,404.6 Q656.3,399.0 673.5,400.1 Q690.7,401.1 716.6,402.0" fill="none" stroke="#fff" stroke-width="3.8" stroke-opacity="0.28" stroke-linecap="round"/>
<path d="M613.2,404.6 Q656.3,399.0 673.5,400.1 Q690.7,401.1 716.6,402.0" fill="none" stroke="#fff" stroke-width="2.2" stroke-opacity="1.0" stroke-linecap="round"/>
<path d="M656.3,397.7 Q685.6,385.6 716.6,370.1" fill="none" stroke="#fff" stroke-width="3.4" stroke-opacity="0.28" stroke-linecap="round"/>
<path d="M656.3,397.7 Q685.6,385.6 716.6,370.1" fill="none" stroke="#fff" stroke-width="1.8" stroke-opacity="1.0" stroke-linecap="round"/>
<path d="M603.8,439.9 Q647.7,430.4 664.9,422.6 Q682.1,414.9 716.6,395.9" fill="none" stroke="#fff" stroke-width="5.8" stroke-opacity="0.28" stroke-linecap="round"/>
<path d="M603.8,439.9 Q647.7,430.4 664.9,422.6 Q682.1,414.9 716.6,395.9" fill="none" stroke="#fff" stroke-width="4.2" stroke-opacity="1.0" stroke-linecap="round"/>
<path d="M603.8,445.0 Q647.7,431.6 664.9,428.1 Q682.1,424.5 716.6,425.6" fill="none" stroke="#fff" stroke-width="3.2" stroke-opacity="0.28" stroke-linecap="round"/>
<path d="M603.8,445.0 Q647.7,431.6 664.9,428.1 Q682.1,424.5 716.6,425.6" fill="none" stroke="#fff" stroke-width="1.6" stroke-opacity="1.0" stroke-linecap="round"/>
<path d="M677.0,458.0 Q699.3,447.6 716.6,440.7" fill="none" stroke="#fff" stroke-width="4.2" stroke-opacity="0.28" stroke-linecap="round"/>
<path d="M677.0,458.0 Q699.3,447.6 716.6,440.7" fill="none" stroke="#fff" stroke-width="2.6" stroke-opacity="1.0" stroke-linecap="round"/>
<path d="M699.3,458.8 L716.6,452.8" fill="none" stroke="#fff" stroke-width="3.2" stroke-opacity="0.28" stroke-linecap="round"/>
<path d="M699.3,458.8 L716.6,452.8" fill="none" stroke="#fff" stroke-width="1.6" stroke-opacity="1.0" stroke-linecap="round"/>
<path d="M635.6,385.6 Q644.2,371.8 647.7,364.9" fill="none" stroke="#fff" stroke-width="2.1" stroke-opacity="0.20" stroke-linecap="round"/>
<path d="M635.6,385.6 Q644.2,371.8 647.7,364.9" fill="none" stroke="#fff" stroke-width="0.5" stroke-opacity="0.7" stroke-linecap="round"/>
<path d="M682.1,421.8 Q699.3,414.9 716.6,402.8" fill="none" stroke="#fff" stroke-width="2.6" stroke-opacity="0.22" stroke-linecap="round"/>
<path d="M682.1,421.8 Q699.3,414.9 716.6,402.8" fill="none" stroke="#fff" stroke-width="1.0" stroke-opacity="0.8" stroke-linecap="round"/>
</g></g>
<rect x="603.3" y="352.8" width="113.4" height="106.8" fill="none" stroke="#222" stroke-width="1"/>
<g clip-path="url(#c3)">
<filter id="tx3" x="603" y="466" width="114" height="109" filterUnits="userSpaceOnUse" color-interpolation-filters="sRGB"><feTurbulence type="fractalNoise" baseFrequency="0.2" numOctaves="3" seed="21"/><feColorMatrix type="matrix" values="0.9 0 0 0 -0.4  0.9 0 0 0 -0.4  0.9 0 0 0 -0.4  0 0 0 0 1"/></filter>
<rect x="603" y="466" width="114" height="109" fill="#333" filter="url(#tx3)"/>
<g filter="url(#mb)">
<circle cx="616.7" cy="482.4" r="9.3" fill="url(#cg)"/>
<circle cx="707.1" cy="504.8" r="9.3" fill="url(#cg)"/>
<circle cx="614.9" cy="531.5" r="9.3" fill="url(#cg)"/>
<circle cx="639.1" cy="478.9" r="3.8" fill="#999" fill-opacity="0.50" stroke="#eee" stroke-opacity="0.50" stroke-width="1.1"/>
<circle cx="661.4" cy="538.4" r="4.5" fill="#999" fill-opacity="0.50" stroke="#eee" stroke-opacity="0.50" stroke-width="1.3"/>
<circle cx="621.8" cy="552.1" r="5.5" fill="#999" fill-opacity="0.50" stroke="#eee" stroke-opacity="0.50" stroke-width="1.5"/>
<circle cx="639.1" cy="559.0" r="4.1" fill="#999" fill-opacity="0.50" stroke="#eee" stroke-opacity="0.50" stroke-width="1.2"/>
<circle cx="646.8" cy="523.7" r="3.1" fill="#999" fill-opacity="0.50" stroke="#eee" stroke-opacity="0.50" stroke-width="0.9"/>
<circle cx="682.1" cy="534.1" r="3.4" fill="#999" fill-opacity="0.50" stroke="#eee" stroke-opacity="0.50" stroke-width="1.0"/>
<circle cx="668.3" cy="553.0" r="3.4" fill="#999" fill-opacity="0.50" stroke="#eee" stroke-opacity="0.50" stroke-width="1.0"/>
<circle cx="697.6" cy="568.5" r="4.8" fill="#999" fill-opacity="0.50" stroke="#eee" stroke-opacity="0.50" stroke-width="1.4"/>
<circle cx="606.3" cy="494.4" r="2.8" fill="#999" fill-opacity="0.50" stroke="#eee" stroke-opacity="0.50" stroke-width="0.8"/>
<path d="M603.8,500.0 Q656.3,500.8 673.5,498.9 Q690.7,497.0 716.6,493.9" fill="none" stroke="#fff" stroke-width="4.3" stroke-opacity="0.28" stroke-linecap="round"/>
<path d="M603.8,500.0 Q656.3,500.8 673.5,498.9 Q690.7,497.0 716.6,493.9" fill="none" stroke="#fff" stroke-width="2.7" stroke-opacity="1.0" stroke-linecap="round"/>
<path d="M632.2,497.0 Q664.9,480.7 699.3,467.8" fill="none" stroke="#fff" stroke-width="2.8" stroke-opacity="0.28" stroke-linecap="round"/>
<path d="M632.2,497.0 Q664.9,480.7 699.3,467.8" fill="none" stroke="#fff" stroke-width="1.2" stroke-opacity="1.0" stroke-linecap="round"/>
<path d="M664.9,494.4 Q692.5,484.1 716.6,477.2" fill="none" stroke="#fff" stroke-width="2.8" stroke-opacity="0.28" stroke-linecap="round"/>
<path d="M664.9,494.4 Q692.5,484.1 716.6,477.2" fill="none" stroke="#fff" stroke-width="1.2" stroke-opacity="1.0" stroke-linecap="round"/>
<path d="M606.3,496.2 Q630.4,491.9 652.8,485.8" fill="none" stroke="#fff" stroke-width="2.3" stroke-opacity="0.25" stroke-linecap="round"/>
<path d="M606.3,496.2 Q630.4,491.9 652.8,485.8" fill="none" stroke="#fff" stroke-width="0.7" stroke-opacity="0.9" stroke-linecap="round"/>
<path d="M603.8,520.3 Q635.6,516.5 654.6,519.4 Q673.5,522.3 716.6,526.3" fill="none" stroke="#fff" stroke-width="3.5" stroke-opacity="0.28" stroke-linecap="round"/>
<path d="M603.8,520.3 Q635.6,516.5 654.6,519.4 Q673.5,522.3 716.6,526.3" fill="none" stroke="#fff" stroke-width="1.9" stroke-opacity="1.0" stroke-linecap="round"/>
<path d="M635.6,515.1 Q664.9,512.5 699.3,515.5" fill="none" stroke="#fff" stroke-width="2.3" stroke-opacity="0.28" stroke-linecap="round"/>
<path d="M635.6,515.1 Q664.9,512.5 699.3,515.5" fill="none" stroke="#fff" stroke-width="0.7" stroke-opacity="1.0" stroke-linecap="round"/>
<path d="M603.8,542.7 Q647.7,544.4 669.2,544.8 Q690.7,545.3 716.6,549.9" fill="none" stroke="#fff" stroke-width="3.8" stroke-opacity="0.28" stroke-linecap="round"/>
<path d="M603.8,542.7 Q647.7,544.4 669.2,544.8 Q690.7,545.3 716.6,549.9" fill="none" stroke="#fff" stroke-width="2.2" stroke-opacity="1.0" stroke-linecap="round"/>
<path d="M627.0,539.6 Q673.5,533.2 716.6,527.5" fill="none" stroke="#fff" stroke-width="2.3" stroke-opacity="0.28" stroke-linecap="round"/>
<path d="M627.0,539.6 Q673.5,533.2 716.6,527.5" fill="none" stroke="#fff" stroke-width="0.7" stroke-opacity="1.0" stroke-linecap="round"/>
<path d="M690.7,546.1 Q706.2,553.0 716.6,558.5" fill="none" stroke="#fff" stroke-width="2.3" stroke-opacity="0.28" stroke-linecap="round"/>
<path d="M690.7,546.1 Q706.2,553.0 716.6,558.5" fill="none" stroke="#fff" stroke-width="0.7" stroke-opacity="1.0" stroke-linecap="round"/>
<path d="M603.8,469.0 L647.7,467.8" fill="none" stroke="#fff" stroke-width="2.3" stroke-opacity="0.28" stroke-linecap="round"/>
<path d="M603.8,469.0 L647.7,467.8" fill="none" stroke="#fff" stroke-width="0.7" stroke-opacity="1.0" stroke-linecap="round"/>
<path d="M647.7,570.2 Q652.8,556.5 656.3,546.1" fill="none" stroke="#fff" stroke-width="2.1" stroke-opacity="0.14" stroke-linecap="round"/>
<path d="M647.7,570.2 Q652.8,556.5 656.3,546.1" fill="none" stroke="#fff" stroke-width="0.5" stroke-opacity="0.5" stroke-linecap="round"/>
</g></g>
<rect x="603.3" y="466.3" width="113.4" height="107" fill="none" stroke="#222" stroke-width="1"/>
<rect x="603" y="577.3" width="77" height="4.5" fill="#000"/>
<text transform="translate(396.5,551.8) scale(1.13,1)" font-size="19.91" text-anchor="start" fill="#000" >F</text>
<line x1="442.20" y1="577.40" x2="442.20" y2="759.40" stroke="#000" stroke-width="2.2" />
<line x1="439.50" y1="758.30" x2="720.00" y2="758.30" stroke="#000" stroke-width="2.2" />
<line x1="438.00" y1="758.30" x2="442.50" y2="758.30" stroke="#000" stroke-width="1.7" />
<text transform="translate(436.8,762.0999999999999) scale(1.05,1)" font-size="10.48" text-anchor="end" fill="#000" >0</text>
<line x1="438.00" y1="735.80" x2="442.50" y2="735.80" stroke="#000" stroke-width="1.7" />
<text transform="translate(436.8,739.5999999999999) scale(1.05,1)" font-size="10.48" text-anchor="end" fill="#000" >500</text>
<line x1="438.00" y1="713.30" x2="442.50" y2="713.30" stroke="#000" stroke-width="1.7" />
<text transform="translate(436.8,717.0999999999999) scale(1.05,1)" font-size="10.48" text-anchor="end" fill="#000" >1000</text>
<line x1="438.00" y1="690.80" x2="442.50" y2="690.80" stroke="#000" stroke-width="1.7" />
<text transform="translate(436.8,694.5999999999999) scale(1.05,1)" font-size="10.48" text-anchor="end" fill="#000" >1500</text>
<line x1="438.00" y1="668.30" x2="442.50" y2="668.30" stroke="#000" stroke-width="1.7" />
<text transform="translate(436.8,672.0999999999999) scale(1.05,1)" font-size="10.48" text-anchor="end" fill="#000" >2000</text>
<line x1="438.00" y1="645.80" x2="442.50" y2="645.80" stroke="#000" stroke-width="1.7" />
<text transform="translate(436.8,649.5999999999999) scale(1.05,1)" font-size="10.48" text-anchor="end" fill="#000" >2500</text>
<line x1="438.00" y1="623.30" x2="442.50" y2="623.30" stroke="#000" stroke-width="1.7" />
<text transform="translate(436.8,627.0999999999999) scale(1.05,1)" font-size="10.48" text-anchor="end" fill="#000" >3000</text>
<line x1="438.00" y1="600.80" x2="442.50" y2="600.80" stroke="#000" stroke-width="1.7" />
<text transform="translate(436.8,604.5999999999999) scale(1.05,1)" font-size="10.48" text-anchor="end" fill="#000" >3500</text>
<line x1="438.00" y1="578.30" x2="442.50" y2="578.30" stroke="#000" stroke-width="1.7" />
<text transform="translate(436.8,582.0999999999999) scale(1.05,1)" font-size="10.48" text-anchor="end" fill="#000" >4000</text>
<text transform="translate(407,654.8) rotate(-90)" font-size="15.8" text-anchor="middle">RGCs/mm<tspan font-size="10" dy="-5">2</tspan></text>
<line x1="461.50" y1="584.70" x2="461.50" y2="595.40" stroke="#000" stroke-width="1.7" />
<line x1="456.70" y1="584.70" x2="466.30" y2="584.70" stroke="#000" stroke-width="1.7" />
<rect x="453.10" y="595.4" width="16.8" height="162.40" fill="#000" stroke="#111" stroke-width="1.5"/>
<line x1="461.50" y1="758.30" x2="461.50" y2="762.30" stroke="#000" stroke-width="1.8" />
<text transform="translate(465.7,770.5) scale(1.13,1) rotate(-45)" font-size="11" text-anchor="end">Untreated</text>
<line x1="485.46" y1="586.00" x2="485.46" y2="595.40" stroke="#000" stroke-width="1.7" />
<line x1="480.66" y1="586.00" x2="490.26" y2="586.00" stroke="#000" stroke-width="1.7" />
<rect x="477.06" y="595.4" width="16.8" height="162.40" fill="url(#hatch)" stroke="#111" stroke-width="1.5"/>
<line x1="485.46" y1="758.30" x2="485.46" y2="762.30" stroke="#000" stroke-width="1.8" />
<text transform="translate(489.7,770.5) scale(1.13,1) rotate(-45)" font-size="11" text-anchor="end">PBS</text>
<line x1="509.42" y1="617.20" x2="509.42" y2="628.40" stroke="#000" stroke-width="1.7" />
<line x1="504.62" y1="617.20" x2="514.22" y2="617.20" stroke="#000" stroke-width="1.7" />
<rect x="501.02" y="628.4" width="16.8" height="129.40" fill="#a2a2a6" stroke="#111" stroke-width="1.5"/>
<line x1="509.42" y1="758.30" x2="509.42" y2="762.30" stroke="#000" stroke-width="1.8" />
<text transform="translate(513.6,770.5) scale(1.13,1) rotate(-45)" font-size="11" text-anchor="end">0.02</text>
<text transform="translate(519.0,613.9) scale(1.13,1) rotate(-90)" font-size="14" text-anchor="start" letter-spacing="2.3">**</text>
<line x1="533.38" y1="624.00" x2="533.38" y2="635.70" stroke="#000" stroke-width="1.7" />
<line x1="528.58" y1="624.00" x2="538.18" y2="624.00" stroke="#000" stroke-width="1.7" />
<rect x="524.98" y="635.7" width="16.8" height="122.10" fill="#a2a2a6" stroke="#111" stroke-width="1.5"/>
<line x1="533.38" y1="758.30" x2="533.38" y2="762.30" stroke="#000" stroke-width="1.8" />
<text transform="translate(537.6,770.5) scale(1.13,1) rotate(-45)" font-size="11" text-anchor="end">0.05</text>
<text transform="translate(543.0,620.7) scale(1.13,1) rotate(-90)" font-size="14" text-anchor="start" letter-spacing="2.3">***</text>
<line x1="557.34" y1="620.60" x2="557.34" y2="628.40" stroke="#000" stroke-width="1.7" />
<line x1="552.54" y1="620.60" x2="562.14" y2="620.60" stroke="#000" stroke-width="1.7" />
<rect x="548.94" y="628.4" width="16.8" height="129.40" fill="#a2a2a6" stroke="#111" stroke-width="1.5"/>
<line x1="557.34" y1="758.30" x2="557.34" y2="762.30" stroke="#000" stroke-width="1.8" />
<text transform="translate(561.5,770.5) scale(1.13,1) rotate(-45)" font-size="11" text-anchor="end">0.1</text>
<text transform="translate(566.9,617.3) scale(1.13,1) rotate(-90)" font-size="14" text-anchor="start" letter-spacing="2.3">**</text>
<line x1="581.30" y1="624.50" x2="581.30" y2="639.60" stroke="#000" stroke-width="1.7" />
<line x1="576.50" y1="624.50" x2="586.10" y2="624.50" stroke="#000" stroke-width="1.7" />
<rect x="572.90" y="639.6" width="16.8" height="118.20" fill="#a2a2a6" stroke="#111" stroke-width="1.5"/>
<line x1="581.30" y1="758.30" x2="581.30" y2="762.30" stroke="#000" stroke-width="1.8" />
<text transform="translate(585.5,770.5) scale(1.13,1) rotate(-45)" font-size="11" text-anchor="end">0.2</text>
<text transform="translate(590.9,621.2) scale(1.13,1) rotate(-90)" font-size="14" text-anchor="start" letter-spacing="2.3">***</text>
<line x1="605.26" y1="636.20" x2="605.26" y2="645.40" stroke="#000" stroke-width="1.7" />
<line x1="600.46" y1="636.20" x2="610.06" y2="636.20" stroke="#000" stroke-width="1.7" />
<rect x="596.86" y="645.4" width="16.8" height="112.40" fill="#a2a2a6" stroke="#111" stroke-width="1.5"/>
<line x1="605.26" y1="758.30" x2="605.26" y2="762.30" stroke="#000" stroke-width="1.8" />
<text transform="translate(609.5,770.5) scale(1.13,1) rotate(-45)" font-size="11" text-anchor="end">0.5</text>
<text transform="translate(614.9,632.9) scale(1.13,1) rotate(-90)" font-size="14" text-anchor="start" letter-spacing="2.3">****</text>
<line x1="629.22" y1="623.00" x2="629.22" y2="633.80" stroke="#000" stroke-width="1.7" />
<line x1="624.42" y1="623.00" x2="634.02" y2="623.00" stroke="#000" stroke-width="1.7" />
<rect x="620.82" y="633.8" width="16.8" height="124.00" fill="#a2a2a6" stroke="#111" stroke-width="1.5"/>
<line x1="629.22" y1="758.30" x2="629.22" y2="762.30" stroke="#000" stroke-width="1.8" />
<text transform="translate(633.4,770.5) scale(1.13,1) rotate(-45)" font-size="11" text-anchor="end">1</text>
<text transform="translate(638.8,619.7) scale(1.13,1) rotate(-90)" font-size="14" text-anchor="start" letter-spacing="2.3">**</text>
<line x1="653.18" y1="624.50" x2="653.18" y2="632.80" stroke="#000" stroke-width="1.7" />
<line x1="648.38" y1="624.50" x2="657.98" y2="624.50" stroke="#000" stroke-width="1.7" />
<rect x="644.78" y="632.8" width="16.8" height="125.00" fill="#a2a2a6" stroke="#111" stroke-width="1.5"/>
<line x1="653.18" y1="758.30" x2="653.18" y2="762.30" stroke="#000" stroke-width="1.8" />
<text transform="translate(657.4,770.5) scale(1.13,1) rotate(-45)" font-size="11" text-anchor="end">2</text>
<text transform="translate(662.8,621.2) scale(1.13,1) rotate(-90)" font-size="14" text-anchor="start" letter-spacing="2.3">***</text>
<line x1="677.14" y1="682.90" x2="677.14" y2="695.50" stroke="#000" stroke-width="1.7" />
<line x1="672.34" y1="682.90" x2="681.94" y2="682.90" stroke="#000" stroke-width="1.7" />
<rect x="668.74" y="695.5" width="16.8" height="62.30" fill="#a2a2a6" stroke="#111" stroke-width="1.5"/>
<line x1="677.14" y1="758.30" x2="677.14" y2="762.30" stroke="#000" stroke-width="1.8" />
<text transform="translate(681.3,770.5) scale(1.13,1) rotate(-45)" font-size="11" text-anchor="end">5</text>
<text transform="translate(686.7,679.6) scale(1.13,1) rotate(-90)" font-size="14" text-anchor="start" letter-spacing="2.3">****</text>
<line x1="701.10" y1="712.50" x2="701.10" y2="725.20" stroke="#000" stroke-width="1.7" />
<line x1="696.30" y1="712.50" x2="705.90" y2="712.50" stroke="#000" stroke-width="1.7" />
<rect x="692.70" y="725.2" width="16.8" height="32.60" fill="#a2a2a6" stroke="#111" stroke-width="1.5"/>
<line x1="701.10" y1="758.30" x2="701.10" y2="762.30" stroke="#000" stroke-width="1.8" />
<text transform="translate(705.3,770.5) scale(1.13,1) rotate(-45)" font-size="11" text-anchor="end">10</text>
<text transform="translate(710.7,709.2) scale(1.13,1) rotate(-90)" font-size="14" text-anchor="start" letter-spacing="2.3">****</text>
<line x1="491.50" y1="793.80" x2="712.80" y2="793.80" stroke="#000" stroke-width="2.6" />
<text transform="translate(590,810.8) scale(1.13,1)" font-size="12.17" text-anchor="middle" fill="#000" >NMDA (nmoles)</text>
</svg></body></html>
